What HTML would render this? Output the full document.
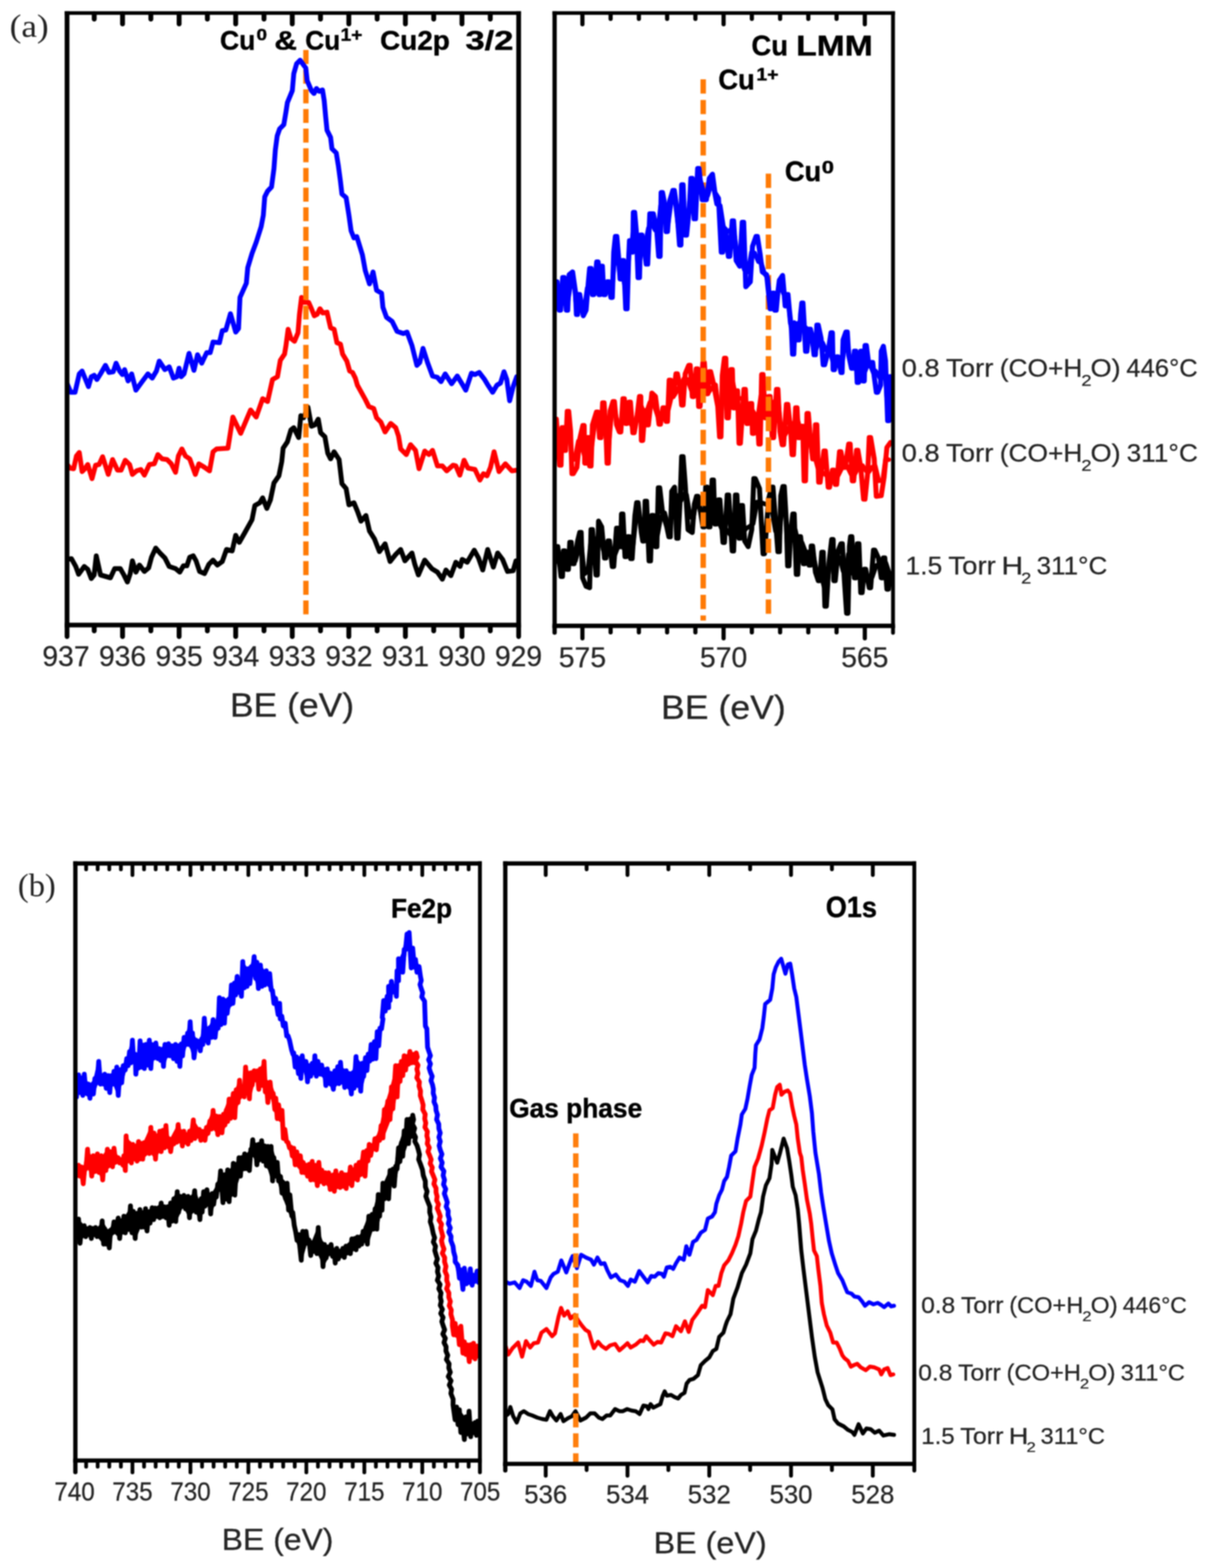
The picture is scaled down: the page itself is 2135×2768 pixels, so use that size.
<!DOCTYPE html>
<html lang="en"><head><meta charset="utf-8"><title>XPS spectra</title>
<style>html,body{margin:0;padding:0;background:#fff}svg{display:block}text{font-family:"Liberation Sans",sans-serif;fill:#242424;stroke:#242424;stroke-width:0.4px}.b{font-weight:bold;fill:#000;stroke:none}.s{font-family:"Liberation Serif",serif;fill:#222;stroke:none}</style></head><body>
<svg width="2135" height="2768" viewBox="0 0 2135 2768">
<defs><filter id="bl" x="0" y="0" width="100%" height="100%" filterUnits="userSpaceOnUse" color-interpolation-filters="sRGB"><feGaussianBlur stdDeviation="1.0"/></filter><clipPath id="caL"><rect x="118" y="23" width="798" height="1081"/></clipPath><clipPath id="caR"><rect x="979" y="23" width="598" height="1082"/></clipPath><clipPath id="cbL"><rect x="133" y="1524" width="715" height="1055"/></clipPath><clipPath id="cbR"><rect x="892" y="1524" width="723" height="1061"/></clipPath></defs>
<rect width="2135" height="2768" fill="#ffffff"/>
<g filter="url(#bl)">
<g id="aL">
<g clip-path="url(#caL)">
<polyline points="117.5,987.5 126.2,986.2 133.8,1000.0 138.8,1013.8 148.8,1000.0 155.0,1005.0 161.2,1021.2 166.2,1015.0 170.0,981.2 177.5,1015.0 186.2,1017.5 195.0,1020.0 202.5,1003.8 212.5,1003.8 218.8,1015.0 225.0,1027.5 230.0,1012.5 233.8,990.0 240.0,1010.0 246.2,997.5 255.0,1008.8 262.5,1002.5 267.5,983.8 275.0,967.5 282.5,976.2 291.2,985.0 298.8,1000.0 310.0,1003.8 317.5,1010.0 323.8,998.8 330.0,998.8 335.0,983.8 341.2,981.2 346.2,990.0 352.5,1008.8 361.2,1012.5 368.8,996.2 376.2,988.8 383.8,997.5 392.5,991.2 400.0,970.0 410.0,972.5 416.2,945.0 422.5,957.5 432.5,940.0 445.0,917.5 450.0,892.5 458.8,887.5 463.8,878.8 471.2,897.5 477.5,882.5 483.8,852.5 492.5,840.0 497.5,815.0 500.0,791.2 507.5,780.0 513.8,758.8 518.8,755.0 527.5,772.5 531.2,733.8 536.2,737.5 543.8,718.8 550.0,752.5 556.2,750.0 562.0,740.0 566.2,763.8 573.8,771.2 578.8,800.0 583.8,810.0 590.0,797.5 598.8,811.2 603.8,853.8 611.2,862.5 613.8,877.5 616.2,891.2 625.0,887.5 631.2,902.5 637.5,920.0 646.2,910.0 652.5,937.5 661.2,951.2 670.0,973.8 680.0,960.0 688.8,991.2 698.8,978.8 707.5,970.0 715.0,990.0 727.5,976.2 732.5,996.2 738.8,1015.0 750.0,988.8 762.5,1003.8 772.5,1010.0 781.2,1022.5 787.5,1006.2 796.2,1016.2 805.0,992.5 812.5,1000.0 816.2,987.5 825.0,992.5 837.5,971.2 845.0,985.0 852.5,1006.2 861.2,970.0 871.2,1001.2 878.8,976.2 887.5,987.5 896.2,1008.8 906.2,1007.5 911.2,990.0" fill="none" stroke="#000000" stroke-width="8.6" stroke-linejoin="round" stroke-linecap="round"/>
<polyline points="117.5,818.8 123.8,826.2 130.0,827.5 135.0,805.0 140.0,798.8 145.0,832.5 150.0,827.5 155.0,820.0 162.5,845.0 168.8,821.2 175.0,820.0 181.2,806.2 191.2,837.5 198.8,811.2 207.5,830.0 213.8,830.0 221.2,812.5 228.8,820.0 233.8,837.5 241.2,831.2 248.8,828.8 255.0,838.8 263.8,820.0 272.5,818.8 278.8,802.5 286.2,810.0 295.0,811.2 302.5,818.8 310.0,833.8 315.0,805.0 321.2,792.5 327.5,805.0 335.0,810.0 345.0,837.5 351.2,818.8 361.2,825.0 370.0,831.2 376.2,797.5 382.5,792.5 402.5,791.2 411.2,736.2 425.0,765.0 442.5,723.8 452.5,736.2 463.8,703.8 472.5,708.8 481.2,670.0 490.0,665.0 495.0,636.2 502.5,625.0 505.0,610.0 508.8,581.2 513.8,597.5 520.0,602.5 526.2,587.5 528.8,555.0 532.5,525.0 536.2,533.8 545.0,533.8 550.0,545.0 555.0,557.5 560.0,555.0 565.0,545.0 570.0,552.5 577.5,551.2 581.2,567.5 583.8,578.8 590.0,581.2 595.0,605.0 601.2,607.5 605.0,625.0 612.5,637.5 617.5,655.0 622.5,657.5 627.5,667.5 631.2,680.2 638.8,693.8 645.0,705.0 651.2,717.5 660.0,721.2 665.0,737.5 672.5,745.0 680.0,762.5 690.0,747.5 698.8,755.0 703.8,770.0 707.5,792.5 717.5,802.5 725.0,785.0 733.8,795.0 740.0,827.5 750.0,796.2 757.5,802.5 763.8,795.0 772.5,822.5 781.2,822.5 788.8,831.2 800.0,821.2 805.0,822.5 812.0,838.8 819.5,812.5 826.2,826.2 838.8,828.8 847.5,847.5 853.8,836.2 860.0,840.0 866.2,825.0 872.5,797.5 881.2,832.5 892.5,818.8 903.8,831.2 912.5,830.0" fill="none" stroke="#ff0000" stroke-width="8.6" stroke-linejoin="round" stroke-linecap="round"/>
<line x1="540.2" y1="88.3" x2="540.2" y2="1086.0" stroke="#ff7a05" stroke-width="9.4" stroke-dasharray="24.7 10.0" opacity="1.00"/>
<polyline points="117.5,675.0 125.0,692.5 132.5,692.5 140.0,660.0 145.0,655.0 156.2,682.5 161.2,665.0 166.2,662.5 171.2,670.0 177.5,660.0 186.2,645.0 192.5,657.5 200.0,656.2 205.0,641.2 211.2,655.0 216.2,661.2 220.0,652.5 226.2,672.5 232.5,660.0 240.0,688.8 250.0,675.0 261.2,660.0 268.8,667.5 276.2,655.0 281.2,637.5 291.2,652.5 298.8,647.5 306.2,667.5 312.5,665.0 316.2,650.0 320.0,665.0 325.0,660.0 333.8,623.8 342.5,653.8 348.8,626.2 356.2,641.2 365.0,622.5 371.2,622.5 376.2,603.8 387.5,605.0 392.5,583.8 398.8,582.5 407.0,553.8 416.2,586.2 421.2,580.0 423.8,525.0 435.0,500.0 437.5,472.5 445.0,447.5 452.5,427.5 461.2,400.0 465.0,380.0 467.5,347.5 472.5,337.5 479.5,330.0 483.8,297.5 486.2,265.0 489.5,240.0 493.8,227.5 501.2,220.0 505.0,197.5 507.5,181.2 516.2,160.0 518.8,130.0 523.8,112.5 530.0,106.2 536.2,115.0 540.0,120.0 542.5,142.5 550.0,160.0 554.5,165.0 558.8,156.2 563.8,161.2 569.5,158.8 572.5,177.5 575.0,205.0 577.5,230.0 583.8,242.5 586.2,262.5 593.8,270.0 597.5,292.5 601.2,320.0 603.8,342.5 611.2,348.8 616.2,380.2 620.0,407.5 625.0,420.0 630.0,417.5 636.2,437.5 640.0,450.0 645.0,477.5 652.5,501.2 658.8,480.0 665.0,512.5 673.8,517.5 676.2,542.5 682.5,560.0 692.5,567.5 701.2,585.0 712.5,588.8 718.8,586.2 727.5,610.0 736.2,645.0 741.2,640.0 747.0,615.0 755.0,640.0 763.8,663.8 772.5,666.2 778.8,673.8 786.2,660.0 797.5,677.5 807.5,663.8 817.5,680.2 822.5,688.8 832.5,658.8 838.8,661.2 846.2,657.5 855.0,668.8 862.5,681.2 870.0,692.5 877.5,680.0 883.8,676.2 890.0,656.2 895.0,670.0 900.0,707.5 906.2,682.5 912.5,665.0" fill="none" stroke="#0000ff" stroke-width="8.6" stroke-linejoin="round" stroke-linecap="round"/>
</g>
<rect x="114.2" y="19.8" width="8.4" height="1087.7" fill="#000"/>
<rect x="911.7" y="19.8" width="8.4" height="1087.7" fill="#000"/>
<rect x="114.2" y="19.8" width="805.9" height="6.4" fill="#000"/>
<rect x="114.2" y="1099.3" width="805.9" height="8.2" fill="#000"/>
<line x1="118.4" y1="1103.4" x2="118.4" y2="1123.8" stroke="#000" stroke-width="8.4" stroke-linecap="round"/>
<line x1="915.9" y1="1103.4" x2="915.9" y2="1123.8" stroke="#000" stroke-width="8.4" stroke-linecap="round"/>
<line x1="166.4" y1="24.0" x2="166.4" y2="33.7" stroke="#000" stroke-width="8.6" stroke-linecap="round"/>
<line x1="166.4" y1="1104.0" x2="166.4" y2="1113.7" stroke="#000" stroke-width="8.6" stroke-linecap="round"/>
<line x1="216.4" y1="24.0" x2="216.4" y2="42.2" stroke="#000" stroke-width="8.6" stroke-linecap="round"/>
<line x1="216.4" y1="1104.0" x2="216.4" y2="1123.7" stroke="#000" stroke-width="8.6" stroke-linecap="round"/>
<line x1="266.4" y1="24.0" x2="266.4" y2="33.7" stroke="#000" stroke-width="8.6" stroke-linecap="round"/>
<line x1="266.4" y1="1104.0" x2="266.4" y2="1113.7" stroke="#000" stroke-width="8.6" stroke-linecap="round"/>
<line x1="316.3" y1="24.0" x2="316.3" y2="42.2" stroke="#000" stroke-width="8.6" stroke-linecap="round"/>
<line x1="316.3" y1="1104.0" x2="316.3" y2="1123.7" stroke="#000" stroke-width="8.6" stroke-linecap="round"/>
<line x1="366.2" y1="24.0" x2="366.2" y2="33.7" stroke="#000" stroke-width="8.6" stroke-linecap="round"/>
<line x1="366.2" y1="1104.0" x2="366.2" y2="1113.7" stroke="#000" stroke-width="8.6" stroke-linecap="round"/>
<line x1="416.2" y1="24.0" x2="416.2" y2="42.2" stroke="#000" stroke-width="8.6" stroke-linecap="round"/>
<line x1="416.2" y1="1104.0" x2="416.2" y2="1123.7" stroke="#000" stroke-width="8.6" stroke-linecap="round"/>
<line x1="466.2" y1="24.0" x2="466.2" y2="33.7" stroke="#000" stroke-width="8.6" stroke-linecap="round"/>
<line x1="466.2" y1="1104.0" x2="466.2" y2="1113.7" stroke="#000" stroke-width="8.6" stroke-linecap="round"/>
<line x1="516.1" y1="24.0" x2="516.1" y2="42.2" stroke="#000" stroke-width="8.6" stroke-linecap="round"/>
<line x1="516.1" y1="1104.0" x2="516.1" y2="1123.7" stroke="#000" stroke-width="8.6" stroke-linecap="round"/>
<line x1="566.0" y1="24.0" x2="566.0" y2="33.7" stroke="#000" stroke-width="8.6" stroke-linecap="round"/>
<line x1="566.0" y1="1104.0" x2="566.0" y2="1113.7" stroke="#000" stroke-width="8.6" stroke-linecap="round"/>
<line x1="616.0" y1="24.0" x2="616.0" y2="42.2" stroke="#000" stroke-width="8.6" stroke-linecap="round"/>
<line x1="616.0" y1="1104.0" x2="616.0" y2="1123.7" stroke="#000" stroke-width="8.6" stroke-linecap="round"/>
<line x1="666.0" y1="24.0" x2="666.0" y2="33.7" stroke="#000" stroke-width="8.6" stroke-linecap="round"/>
<line x1="666.0" y1="1104.0" x2="666.0" y2="1113.7" stroke="#000" stroke-width="8.6" stroke-linecap="round"/>
<line x1="715.9" y1="24.0" x2="715.9" y2="42.2" stroke="#000" stroke-width="8.6" stroke-linecap="round"/>
<line x1="715.9" y1="1104.0" x2="715.9" y2="1123.7" stroke="#000" stroke-width="8.6" stroke-linecap="round"/>
<line x1="765.9" y1="24.0" x2="765.9" y2="33.7" stroke="#000" stroke-width="8.6" stroke-linecap="round"/>
<line x1="765.9" y1="1104.0" x2="765.9" y2="1113.7" stroke="#000" stroke-width="8.6" stroke-linecap="round"/>
<line x1="815.8" y1="24.0" x2="815.8" y2="42.2" stroke="#000" stroke-width="8.6" stroke-linecap="round"/>
<line x1="815.8" y1="1104.0" x2="815.8" y2="1123.7" stroke="#000" stroke-width="8.6" stroke-linecap="round"/>
<line x1="865.8" y1="24.0" x2="865.8" y2="33.7" stroke="#000" stroke-width="8.6" stroke-linecap="round"/>
<line x1="865.8" y1="1104.0" x2="865.8" y2="1113.7" stroke="#000" stroke-width="8.6" stroke-linecap="round"/>
<text x="116.5" y="1176.0" font-size="50.0" text-anchor="middle">937</text>
<text x="216.4" y="1176.0" font-size="50.0" text-anchor="middle">936</text>
<text x="316.3" y="1176.0" font-size="50.0" text-anchor="middle">935</text>
<text x="416.2" y="1176.0" font-size="50.0" text-anchor="middle">934</text>
<text x="516.1" y="1176.0" font-size="50.0" text-anchor="middle">933</text>
<text x="616.0" y="1176.0" font-size="50.0" text-anchor="middle">932</text>
<text x="715.9" y="1176.0" font-size="50.0" text-anchor="middle">931</text>
<text x="815.8" y="1176.0" font-size="50.0" text-anchor="middle">930</text>
<text x="915.7" y="1176.0" font-size="50.0" text-anchor="middle">929</text>
<text x="406.0" y="1265.0" font-size="58.5" textLength="219.5" lengthAdjust="spacingAndGlyphs">BE (eV)</text>
<text x="388.4" y="88.0" font-size="48.0" textLength="62.5" lengthAdjust="spacingAndGlyphs" class="b" style="stroke:#000;stroke-width:0.7px;stroke-linejoin:round">Cu</text>
<text x="453.0" y="71.0" font-size="29.0" textLength="18.6" lengthAdjust="spacingAndGlyphs" class="b" style="stroke:#000;stroke-width:0.7px;stroke-linejoin:round">0</text>
<text x="484.5" y="88.0" font-size="48.0" textLength="40.0" lengthAdjust="spacingAndGlyphs" class="b" style="stroke:#000;stroke-width:0.7px;stroke-linejoin:round">&amp;</text>
<text x="539.0" y="88.0" font-size="48.0" textLength="61.9" lengthAdjust="spacingAndGlyphs" class="b" style="stroke:#000;stroke-width:0.7px;stroke-linejoin:round">Cu</text>
<text x="601.6" y="71.5" font-size="30.5" textLength="38.3" lengthAdjust="spacingAndGlyphs" class="b" style="stroke:#000;stroke-width:0.7px;stroke-linejoin:round">1+</text>
<text x="671.3" y="88.0" font-size="48.0" textLength="123.1" lengthAdjust="spacingAndGlyphs" class="b" style="stroke:#000;stroke-width:0.7px;stroke-linejoin:round">Cu2p</text>
<text x="821.9" y="88.0" font-size="48.0" textLength="84.7" lengthAdjust="spacingAndGlyphs" class="b" style="stroke:#000;stroke-width:0.7px;stroke-linejoin:round">3/2</text>
</g>
<g id="aR">
<g clip-path="url(#caR)">
<polyline points="981.9,975.0 988.5,999.0 994.1,1000.0 999.4,992.0 1005.0,990.5 1010.0,988.9 1016.2,990.0 1022.5,966.6 1026.9,962.2 1031.9,1013.3 1038.1,1008.6 1043.1,957.0 1049.4,959.8 1055.4,948.3 1059.8,946.1 1065.6,972.0 1071.9,973.9 1078.8,974.7 1086.2,978.6 1092.5,962.2 1096.9,962.3 1101.9,968.2 1107.5,961.2 1112.5,963.5 1118.1,962.9 1123.4,912.1 1129.0,912.6 1134.4,944.0 1138.4,942.7 1144.0,957.1 1150.0,958.2 1155.6,945.1 1161.2,944.6 1166.9,913.5 1173.8,905.4 1180.0,929.1 1184.4,923.8 1188.8,876.6 1193.8,873.5 1198.8,883.8 1203.1,883.4 1207.5,872.3 1212.5,873.3 1218.8,912.5 1224.4,915.6 1228.8,887.1 1233.8,891.8 1239.4,913.2 1245.0,912.3 1250.0,911.8 1255.6,916.9 1261.2,912.9 1266.9,915.5 1274.0,932.7 1281.8,933.9 1289.9,944.2 1297.1,946.1 1303.1,940.0 1308.1,938.6 1312.5,939.3 1318.1,932.4 1324.4,928.9 1330.0,924.5 1336.9,886.2 1345.0,887.4 1353.1,890.5 1360.6,885.8 1369.4,937.7 1376.9,946.2 1381.2,886.3 1386.2,888.0 1390.4,967.7 1394.1,966.0 1398.8,927.9 1404.4,935.2 1410.0,959.7 1416.2,957.5 1423.1,975.6 1428.1,983.0 1431.9,974.9 1436.9,982.6 1443.1,1013.2 1449.4,1011.8 1455.2,1036.0 1460.9,1036.6 1466.9,974.7 1471.9,974.7 1476.9,991.4 1483.1,984.8 1488.8,1008.1 1493.8,1012.3 1498.1,978.3 1501.5,982.9 1506.5,1013.2 1512.8,1014.0 1518.4,1020.2 1524.4,1021.4 1531.9,1021.6 1540.0,1019.4 1547.5,998.1 1554.4,996.0 1559.4,996.2 1564.4,993.6 1570.0,1010.5" fill="none" stroke="#000000" stroke-width="8.0" stroke-linejoin="round" stroke-linecap="round"/>
<polyline points="978.8,965.0 985.0,965.0 990.7,1017.5 993.3,1017.5 995.0,972.5 997.5,972.5 1001.2,1005.0 1003.8,1005.0 1006.2,957.5 1008.8,957.5 1011.2,995.0 1013.8,995.0 1020.0,955.0 1023.7,940.0 1026.3,940.0 1028.8,1020.0 1035.0,1035.0 1041.2,1037.5 1043.7,935.0 1046.3,935.0 1052.5,1015.0 1054.9,1015.0 1057.0,920.0 1062.5,930.0 1067.5,985.0 1070.0,985.0 1073.7,955.0 1076.3,955.0 1081.2,1000.0 1083.8,1000.0 1088.7,932.5 1091.3,932.5 1093.7,965.0 1096.3,965.0 1097.5,907.5 1100.0,907.5 1103.7,982.5 1106.3,982.5 1108.7,947.5 1111.3,947.5 1113.7,986.2 1116.3,986.2 1121.2,910.0 1124.2,887.5 1126.8,887.5 1132.5,940.0 1135.0,955.0 1137.5,955.0 1139.2,885.0 1141.8,885.0 1146.2,990.0 1148.8,990.0 1151.2,910.0 1153.8,910.0 1157.5,965.0 1160.0,965.0 1162.5,861.2 1165.0,861.2 1170.0,905.0 1177.5,930.0 1181.2,947.5 1183.8,947.5 1186.2,867.5 1191.2,860.0 1195.0,950.0 1197.5,950.0 1201.2,880.0 1203.7,806.2 1206.3,806.2 1210.0,855.0 1215.0,935.0 1222.5,940.0 1226.2,890.0 1230.0,876.2 1232.5,876.2 1236.2,897.5 1241.2,930.0 1243.8,930.0 1246.2,860.0 1248.8,860.0 1251.2,930.0 1253.8,930.0 1257.5,847.5 1260.0,847.5 1262.5,925.0 1265.0,925.0 1268.7,882.5 1271.3,882.5 1276.7,957.5 1279.3,957.5 1284.2,873.8 1286.8,873.8 1293.0,972.5 1295.5,972.5 1298.7,873.8 1301.3,873.8 1305.0,950.0 1307.5,950.0 1308.7,892.5 1311.3,892.5 1315.0,955.0 1321.2,965.0 1327.5,935.0 1331.2,845.0 1333.8,845.0 1341.2,862.5 1347.5,977.5 1350.0,977.5 1357.5,880.0 1362.5,860.0 1365.0,860.0 1373.7,973.8 1376.3,973.8 1378.8,875.0 1382.5,858.8 1385.0,858.8 1388.8,925.0 1390.9,998.8 1393.3,998.8 1396.2,940.0 1400.0,907.5 1402.5,907.5 1406.2,1013.8 1408.8,1013.8 1411.2,947.5 1413.8,947.5 1418.7,995.0 1421.3,995.0 1425.0,975.0 1427.5,975.0 1428.7,997.5 1431.3,997.5 1432.5,963.8 1435.0,963.8 1440.0,1010.0 1445.0,1025.0 1447.5,1025.0 1451.2,975.0 1453.8,975.0 1456.7,1070.0 1459.3,1070.0 1463.8,995.0 1468.7,952.5 1471.3,952.5 1472.5,1025.0 1475.0,1025.0 1480.0,972.5 1485.0,960.0 1487.5,960.0 1491.2,1025.0 1495.0,1082.5 1497.5,1082.5 1500.0,965.0 1502.0,947.5 1504.3,947.5 1508.7,1020.0 1511.3,1020.0 1514.2,960.0 1516.8,960.0 1520.0,1046.2 1522.5,1046.2 1526.2,1005.0 1528.8,1005.0 1535.0,1037.5 1537.5,1037.5 1542.5,971.2 1545.0,971.2 1551.2,985.0 1556.2,1020.0 1558.8,1020.0 1560.0,985.0 1562.5,985.0 1566.2,1040.0 1568.8,1040.0 1572.5,1012.5" fill="none" stroke="#000000" stroke-width="8.8" stroke-linejoin="round" stroke-linecap="round"/>
<polyline points="980.6,753.1 983.8,773.0 987.2,769.8 991.6,759.5 995.6,765.5 1000.2,756.5 1005.2,756.5 1009.4,807.1 1015.0,811.0 1021.2,779.0 1027.1,785.0 1032.1,805.6 1036.2,798.8 1040.6,798.0 1044.4,794.1 1050.4,747.1 1057.2,747.1 1062.8,736.0 1067.8,728.9 1071.5,782.0 1075.2,784.2 1080.6,725.5 1086.2,727.8 1091.9,751.6 1098.1,748.2 1103.8,741.3 1109.1,740.8 1115.4,750.6 1121.9,748.3 1127.8,719.3 1132.1,715.9 1136.9,727.8 1141.9,726.9 1147.5,710.3 1154.4,713.0 1161.2,733.9 1168.5,732.3 1174.8,724.2 1180.2,723.7 1185.2,702.7 1191.2,697.2 1198.1,685.0 1203.1,682.3 1207.5,668.5 1213.8,669.6 1220.6,688.4 1227.2,689.0 1232.9,694.1 1238.8,695.2 1245.6,688.4 1251.2,692.9 1256.9,684.8 1263.8,679.5 1269.8,732.5 1273.8,729.8 1278.0,664.5 1282.8,665.2 1288.5,679.3 1294.1,674.1 1298.8,698.1 1303.8,703.1 1310.6,703.6 1317.5,708.8 1323.1,725.2 1328.1,723.4 1333.1,731.9 1338.8,732.7 1343.8,697.3 1349.4,695.8 1355.6,715.0 1361.9,718.1 1368.8,707.5 1375.0,713.7 1380.0,766.5 1386.2,767.7 1393.1,755.2 1398.1,759.3 1403.1,744.7 1408.8,741.2 1413.8,761.3 1418.8,764.5 1423.8,749.9 1428.8,758.1 1433.8,799.6 1438.8,806.3 1444.1,825.8 1451.6,833.6 1460.0,839.4 1467.5,840.3 1473.8,839.9 1480.0,839.8 1487.5,824.7 1495.6,822.5 1503.1,837.6 1510.0,836.2 1516.9,822.7 1523.1,821.8 1529.4,831.3 1534.4,833.0 1540.0,824.7 1545.6,822.5 1551.9,848.8 1558.8,848.0 1563.8,809.6 1569.4,811.5" fill="none" stroke="#ff0000" stroke-width="8.0" stroke-linejoin="round" stroke-linecap="round"/>
<polyline points="978.8,740.0 982.5,740.0 985.0,775.0 988.2,821.2 990.8,821.2 992.5,755.0 995.0,755.0 996.2,795.0 998.8,795.0 1001.7,726.2 1004.3,726.2 1007.5,760.0 1010.0,836.2 1012.5,836.2 1018.8,825.0 1023.8,775.0 1029.2,751.2 1031.6,751.2 1032.6,817.5 1035.0,817.5 1037.5,772.5 1040.0,772.5 1041.2,822.5 1043.8,822.5 1046.2,750.0 1053.2,727.5 1055.8,727.5 1058.7,772.5 1061.3,772.5 1064.2,711.2 1066.8,711.2 1070.0,760.0 1072.0,817.5 1074.3,817.5 1077.5,725.0 1082.5,708.8 1085.0,708.8 1088.8,750.0 1093.7,762.5 1096.3,762.5 1100.0,703.8 1102.5,703.8 1105.0,747.5 1107.5,747.5 1110.7,710.0 1113.3,710.0 1117.5,763.8 1120.0,763.8 1125.0,735.0 1129.2,700.0 1131.6,700.0 1132.6,777.5 1135.0,777.5 1138.7,725.0 1141.3,725.0 1142.5,750.0 1145.0,750.0 1151.2,693.8 1157.5,700.0 1163.7,748.8 1166.3,748.8 1170.7,720.0 1173.3,720.0 1176.2,743.8 1178.8,743.8 1181.7,671.2 1184.3,671.2 1186.2,700.0 1188.8,700.0 1193.7,660.0 1196.3,660.0 1201.2,685.0 1203.7,715.0 1206.3,715.0 1210.0,660.0 1216.2,645.0 1218.8,645.0 1222.5,700.0 1225.0,700.0 1229.5,651.2 1232.0,651.2 1233.7,717.5 1236.3,717.5 1241.2,640.0 1243.8,640.0 1247.5,695.0 1250.0,695.0 1252.5,656.2 1255.0,656.2 1260.0,677.5 1267.5,717.5 1270.7,771.2 1273.2,771.2 1275.5,662.5 1279.2,632.5 1281.8,632.5 1283.7,737.5 1286.3,737.5 1290.7,652.5 1293.3,652.5 1295.0,720.0 1297.5,720.0 1300.0,690.0 1302.5,690.0 1305.0,782.5 1307.5,782.5 1313.7,687.5 1316.3,687.5 1318.7,747.5 1321.3,747.5 1325.0,712.5 1327.5,712.5 1328.7,765.0 1331.3,765.0 1335.0,735.0 1337.5,735.0 1340.0,783.8 1342.5,783.8 1345.0,661.2 1347.5,661.2 1351.2,737.5 1353.8,737.5 1357.5,700.0 1360.0,700.0 1363.7,772.5 1366.3,772.5 1371.2,687.5 1373.8,687.5 1377.5,762.5 1381.2,785.0 1383.8,785.0 1388.7,713.8 1391.3,713.8 1396.2,760.0 1398.7,802.5 1401.3,802.5 1405.0,720.0 1407.5,720.0 1410.0,772.5 1412.5,772.5 1415.0,752.5 1417.5,752.5 1420.0,848.8 1422.5,848.8 1425.0,730.0 1427.5,730.0 1431.2,775.0 1435.0,810.0 1437.5,810.0 1440.0,750.0 1442.5,750.0 1445.7,851.2 1448.3,851.2 1455.0,796.2 1457.5,796.2 1462.5,860.0 1465.0,860.0 1470.0,830.0 1472.5,830.0 1475.0,855.0 1477.5,855.0 1482.5,797.5 1485.0,797.5 1490.0,825.0 1492.5,825.0 1498.7,783.8 1501.3,783.8 1505.0,848.8 1507.5,848.8 1512.5,795.0 1515.0,795.0 1520.0,825.0 1525.0,881.2 1527.5,881.2 1532.5,832.5 1535.0,772.5 1537.5,772.5 1543.8,810.0 1547.5,876.2 1556.2,875.0 1561.2,842.5 1566.2,790.0 1572.5,781.2" fill="none" stroke="#ff0000" stroke-width="8.8" stroke-linejoin="round" stroke-linecap="round"/>
<line x1="1241.8" y1="140.0" x2="1241.8" y2="1095.5" stroke="#ff7a05" stroke-width="9.6" stroke-dasharray="25.2 11.2" opacity="1.00"/>
<line x1="1357.0" y1="306.5" x2="1357.0" y2="1093.5" stroke="#ff7a05" stroke-width="9.6" stroke-dasharray="25.2 10.6" opacity="1.00"/>
<polyline points="981.2,508.2 986.2,529.4 991.9,527.1 998.1,527.7 1003.1,531.1 1008.1,498.8 1013.8,499.4 1017.5,540.5 1020.6,537.5 1026.2,538.0 1032.5,540.5 1036.9,508.5 1040.6,506.3 1045.0,513.2 1051.2,510.9 1056.9,507.7 1060.6,509.3 1065.0,507.5 1070.6,501.1 1076.9,503.1 1081.9,501.4 1085.9,447.0 1090.2,448.6 1094.4,483.8 1098.1,477.5 1103.1,503.8 1108.1,501.1 1111.2,438.3 1114.4,438.1 1117.9,410.3 1121.6,403.4 1125.9,461.3 1130.2,458.4 1135.0,426.6 1140.0,428.8 1145.0,402.7 1150.6,393.4 1156.9,406.2 1162.2,404.5 1166.6,362.6 1171.2,360.0 1175.6,393.6 1180.0,395.0 1186.0,350.9 1192.2,355.5 1198.1,404.0 1203.1,398.1 1208.1,391.3 1214.4,388.9 1219.4,338.1 1224.1,333.1 1230.1,323.7 1236.6,317.0 1243.8,342.9 1250.0,345.1 1255.4,326.2 1260.4,333.0 1265.6,360.5 1271.9,362.8 1277.5,399.4 1283.8,409.5 1290.9,405.3 1297.1,415.1 1303.1,458.4 1309.1,460.2 1314.5,476.2 1321.0,479.9 1326.9,445.5 1332.5,446.5 1339.4,462.0 1344.4,464.4 1350.0,483.1 1355.6,490.2 1359.4,526.2 1363.4,529.1 1367.5,530.7 1371.6,532.6 1375.0,507.6 1379.1,506.0 1383.2,517.7 1386.0,519.8 1389.0,529.1 1392.1,534.0 1395.6,571.1 1399.0,573.6 1402.8,569.5 1407.5,572.7 1411.9,568.6 1415.4,568.7 1418.5,574.1 1421.9,577.5 1426.9,581.5 1431.9,584.1 1436.2,613.4 1441.2,616.6 1446.9,600.2 1452.5,604.6 1458.8,618.2 1465.6,620.2 1470.6,638.0 1475.6,637.3 1482.5,638.8 1487.5,640.7 1491.9,607.1 1496.9,608.5 1501.9,639.8 1507.5,640.7 1512.5,653.8 1518.1,657.2 1523.1,656.7 1526.9,657.7 1531.2,645.9 1537.5,646.2 1542.5,658.8 1546.2,654.9 1551.9,664.1 1555.6,670.5 1558.1,637.7 1561.9,641.6 1566.2,705.8 1570.6,704.9 1573.8,702.1" fill="none" stroke="#0000ff" stroke-width="8.0" stroke-linejoin="round" stroke-linecap="round"/>
<polyline points="978.8,500.0 983.8,497.5 987.5,547.5 990.0,547.5 993.7,490.0 996.3,490.0 1000.0,547.5 1002.5,547.5 1005.0,485.0 1011.2,480.0 1016.2,515.0 1017.9,555.0 1020.0,555.0 1021.2,520.0 1023.8,520.0 1030.0,557.5 1035.0,547.5 1038.8,500.0 1041.2,473.8 1043.8,473.8 1046.2,520.0 1048.8,520.0 1053.7,462.5 1056.3,462.5 1057.5,520.0 1060.0,520.0 1061.2,470.0 1063.8,470.0 1066.2,520.0 1068.8,520.0 1072.5,497.5 1075.0,497.5 1078.7,525.0 1081.3,525.0 1083.8,445.0 1086.7,417.5 1089.3,417.5 1092.5,455.0 1095.0,492.5 1097.5,492.5 1098.7,460.0 1101.3,460.0 1105.0,545.0 1107.5,545.0 1110.0,460.0 1111.6,425.0 1113.8,425.0 1115.0,445.0 1117.4,445.0 1118.4,375.0 1120.8,375.0 1123.8,410.0 1126.7,490.0 1129.3,490.0 1131.2,415.0 1133.8,415.0 1137.5,435.0 1141.2,466.2 1143.8,466.2 1147.5,377.5 1153.8,377.5 1160.0,410.0 1163.2,452.5 1165.8,452.5 1167.5,340.0 1170.0,340.0 1173.8,360.0 1176.2,408.8 1178.8,408.8 1182.5,355.0 1188.2,336.2 1190.8,336.2 1195.0,365.0 1200.0,432.5 1202.5,432.5 1203.7,326.2 1206.3,326.2 1210.0,415.0 1212.5,415.0 1217.5,365.0 1220.0,315.0 1222.5,315.0 1225.7,386.2 1228.3,386.2 1232.0,297.5 1234.5,297.5 1240.0,352.5 1247.5,352.5 1252.5,315.0 1258.2,307.5 1262.5,340.0 1268.8,350.0 1273.7,445.0 1276.3,445.0 1278.7,405.0 1281.3,405.0 1286.2,452.5 1288.8,452.5 1293.0,390.0 1295.5,390.0 1300.0,460.0 1306.2,470.0 1310.7,392.5 1313.3,392.5 1317.0,506.2 1325.0,497.5 1328.8,435.0 1335.0,417.5 1337.5,417.5 1342.5,450.0 1346.2,480.0 1353.8,485.0 1357.5,520.0 1360.0,545.0 1362.5,545.0 1364.2,517.5 1366.8,517.5 1368.2,547.5 1370.8,547.5 1373.8,515.0 1376.2,495.0 1382.0,486.2 1384.5,515.0 1386.5,540.0 1388.5,540.0 1389.5,520.0 1391.6,520.0 1393.8,545.0 1397.5,580.0 1399.5,625.0 1401.8,625.0 1403.7,572.5 1406.3,572.5 1408.7,600.0 1411.3,600.0 1413.8,555.0 1415.9,535.0 1418.0,535.0 1420.0,570.0 1422.5,620.0 1425.0,620.0 1428.7,581.2 1431.3,581.2 1433.8,592.5 1437.5,626.2 1440.0,626.2 1442.5,573.8 1445.0,573.8 1450.0,597.5 1453.7,643.8 1456.3,643.8 1462.5,620.0 1467.5,587.5 1470.0,587.5 1471.2,652.5 1473.8,652.5 1477.5,630.0 1480.0,630.0 1485.0,657.5 1487.1,657.5 1488.8,600.0 1493.7,586.2 1496.3,586.2 1498.8,627.5 1503.7,650.0 1506.3,650.0 1508.7,620.0 1511.3,620.0 1513.7,675.0 1516.3,675.0 1520.0,620.0 1522.5,620.0 1523.7,672.5 1526.3,672.5 1527.5,610.0 1530.0,610.0 1533.8,640.0 1541.2,640.0 1543.8,665.0 1547.5,692.5 1550.0,692.5 1555.0,680.0 1556.2,620.0 1560.0,611.2 1563.8,637.5 1567.5,742.5 1570.0,742.5 1571.2,665.0 1573.4,665.0 1575.0,727.5" fill="none" stroke="#0000ff" stroke-width="8.8" stroke-linejoin="round" stroke-linecap="round"/>
</g>
<rect x="975.6" y="19.8" width="7.6" height="1088.9" fill="#000"/>
<rect x="1573.6" y="19.8" width="6.8" height="1088.9" fill="#000"/>
<rect x="975.6" y="19.8" width="604.8" height="6.4" fill="#000"/>
<rect x="975.6" y="1100.9" width="604.8" height="7.8" fill="#000"/>
<line x1="979.4" y1="1104.8" x2="979.4" y2="1116.7" stroke="#000" stroke-width="7.6" stroke-linecap="round"/>
<line x1="1577.0" y1="1104.8" x2="1577.0" y2="1117.1" stroke="#000" stroke-width="6.8" stroke-linecap="round"/>
<line x1="1028.5" y1="24.0" x2="1028.5" y2="42.8" stroke="#000" stroke-width="7.4" stroke-linecap="round"/>
<line x1="1028.5" y1="1105.0" x2="1028.5" y2="1126.8" stroke="#000" stroke-width="7.4" stroke-linecap="round"/>
<line x1="1078.3" y1="24.0" x2="1078.3" y2="33.3" stroke="#000" stroke-width="7.4" stroke-linecap="round"/>
<line x1="1078.3" y1="1105.0" x2="1078.3" y2="1116.3" stroke="#000" stroke-width="7.4" stroke-linecap="round"/>
<line x1="1128.2" y1="24.0" x2="1128.2" y2="33.3" stroke="#000" stroke-width="7.4" stroke-linecap="round"/>
<line x1="1128.2" y1="1105.0" x2="1128.2" y2="1116.3" stroke="#000" stroke-width="7.4" stroke-linecap="round"/>
<line x1="1178.1" y1="24.0" x2="1178.1" y2="33.3" stroke="#000" stroke-width="7.4" stroke-linecap="round"/>
<line x1="1178.1" y1="1105.0" x2="1178.1" y2="1116.3" stroke="#000" stroke-width="7.4" stroke-linecap="round"/>
<line x1="1228.0" y1="24.0" x2="1228.0" y2="33.3" stroke="#000" stroke-width="7.4" stroke-linecap="round"/>
<line x1="1228.0" y1="1105.0" x2="1228.0" y2="1116.3" stroke="#000" stroke-width="7.4" stroke-linecap="round"/>
<line x1="1277.8" y1="24.0" x2="1277.8" y2="42.8" stroke="#000" stroke-width="7.4" stroke-linecap="round"/>
<line x1="1277.8" y1="1105.0" x2="1277.8" y2="1126.8" stroke="#000" stroke-width="7.4" stroke-linecap="round"/>
<line x1="1327.7" y1="24.0" x2="1327.7" y2="33.3" stroke="#000" stroke-width="7.4" stroke-linecap="round"/>
<line x1="1327.7" y1="1105.0" x2="1327.7" y2="1116.3" stroke="#000" stroke-width="7.4" stroke-linecap="round"/>
<line x1="1377.6" y1="24.0" x2="1377.6" y2="33.3" stroke="#000" stroke-width="7.4" stroke-linecap="round"/>
<line x1="1377.6" y1="1105.0" x2="1377.6" y2="1116.3" stroke="#000" stroke-width="7.4" stroke-linecap="round"/>
<line x1="1427.4" y1="24.0" x2="1427.4" y2="33.3" stroke="#000" stroke-width="7.4" stroke-linecap="round"/>
<line x1="1427.4" y1="1105.0" x2="1427.4" y2="1116.3" stroke="#000" stroke-width="7.4" stroke-linecap="round"/>
<line x1="1477.3" y1="24.0" x2="1477.3" y2="33.3" stroke="#000" stroke-width="7.4" stroke-linecap="round"/>
<line x1="1477.3" y1="1105.0" x2="1477.3" y2="1116.3" stroke="#000" stroke-width="7.4" stroke-linecap="round"/>
<line x1="1527.2" y1="24.0" x2="1527.2" y2="42.8" stroke="#000" stroke-width="7.4" stroke-linecap="round"/>
<line x1="1527.2" y1="1105.0" x2="1527.2" y2="1126.8" stroke="#000" stroke-width="7.4" stroke-linecap="round"/>
<text x="1028.5" y="1177.5" font-size="50.0" text-anchor="middle">575</text>
<text x="1277.8" y="1177.5" font-size="50.0" text-anchor="middle">570</text>
<text x="1527.2" y="1177.5" font-size="50.0" text-anchor="middle">565</text>
<text x="1167.3" y="1268.7" font-size="58.5" textLength="220.5" lengthAdjust="spacingAndGlyphs">BE (eV)</text>
<text x="1327.1" y="98.0" font-size="50.0" textLength="64.4" lengthAdjust="spacingAndGlyphs" class="b" style="stroke:#000;stroke-width:0.7px;stroke-linejoin:round">Cu</text>
<text x="1406.1" y="98.0" font-size="50.0" textLength="135.0" lengthAdjust="spacingAndGlyphs" class="b" style="stroke:#000;stroke-width:0.7px;stroke-linejoin:round">LMM</text>
<text x="1268.4" y="157.5" font-size="50.0" textLength="64.4" lengthAdjust="spacingAndGlyphs" class="b" style="stroke:#000;stroke-width:0.7px;stroke-linejoin:round">Cu</text>
<text x="1335.7" y="142.3" font-size="31.0" textLength="39.0" lengthAdjust="spacingAndGlyphs" class="b" style="stroke:#000;stroke-width:0.7px;stroke-linejoin:round">1+</text>
<text x="1385.9" y="320.0" font-size="50.0" textLength="64.4" lengthAdjust="spacingAndGlyphs" class="b" style="stroke:#000;stroke-width:0.7px;stroke-linejoin:round">Cu</text>
<text x="1451.3" y="306.0" font-size="31.0" textLength="21.4" lengthAdjust="spacingAndGlyphs" class="b" style="stroke:#000;stroke-width:0.7px;stroke-linejoin:round">0</text>
</g>
<text x="1592.2" y="664.8" font-size="44.5" textLength="67.1" lengthAdjust="spacingAndGlyphs">0.8</text>
<text x="1670.4" y="664.8" font-size="44.5" textLength="83.8" lengthAdjust="spacingAndGlyphs">Torr</text>
<text x="1765.5" y="664.8" font-size="44.5" textLength="145.9" lengthAdjust="spacingAndGlyphs">(CO+H</text>
<text x="1925.8" y="664.8" font-size="44.5" textLength="53.3" lengthAdjust="spacingAndGlyphs">O)</text>
<text x="1989.1" y="664.8" font-size="44.5" textLength="126.0" lengthAdjust="spacingAndGlyphs">446°C</text>
<text x="1909.4" y="680.8" font-size="27.6" textLength="18.1" lengthAdjust="spacingAndGlyphs">2</text>
<text x="1592.2" y="815.0" font-size="44.5" textLength="67.1" lengthAdjust="spacingAndGlyphs">0.8</text>
<text x="1670.4" y="815.0" font-size="44.5" textLength="83.8" lengthAdjust="spacingAndGlyphs">Torr</text>
<text x="1765.5" y="815.0" font-size="44.5" textLength="145.9" lengthAdjust="spacingAndGlyphs">(CO+H</text>
<text x="1925.8" y="815.0" font-size="44.5" textLength="53.3" lengthAdjust="spacingAndGlyphs">O)</text>
<text x="1989.4" y="815.0" font-size="44.5" textLength="126.0" lengthAdjust="spacingAndGlyphs">311°C</text>
<text x="1909.4" y="831.0" font-size="27.6" textLength="18.1" lengthAdjust="spacingAndGlyphs">2</text>
<text x="1598.9" y="1013.5" font-size="44.5" textLength="65.0" lengthAdjust="spacingAndGlyphs">1.5</text>
<text x="1674.7" y="1013.5" font-size="44.5" textLength="83.9" lengthAdjust="spacingAndGlyphs">Torr</text>
<text x="1768.6" y="1013.5" font-size="44.5" textLength="38.3" lengthAdjust="spacingAndGlyphs">H</text>
<text x="1830.4" y="1013.5" font-size="44.5" textLength="125.1" lengthAdjust="spacingAndGlyphs">311°C</text>
<text x="1803.2" y="1029.5" font-size="27.6" textLength="17.9" lengthAdjust="spacingAndGlyphs">2</text>
<g id="bL">
<g clip-path="url(#cbL)">
<polygon points="133.3,2153.7 140.0,2155.3 150.0,2167.0 160.0,2170.3 170.0,2170.3 181.7,2158.7 191.7,2177.0 200.0,2160.3 210.0,2153.7 220.0,2150.3 231.7,2132.0 240.0,2145.3 248.3,2138.7 258.3,2137.0 270.0,2135.3 283.3,2127.0 291.7,2133.7 300.0,2127.0 311.7,2107.0 323.3,2113.7 333.3,2115.3 345.0,2105.3 351.7,2123.7 358.3,2107.0 366.7,2103.7 373.3,2110.3 383.3,2093.7 388.3,2070.3 395.0,2077.0 403.3,2068.7 413.3,2057.0 423.3,2047.0 433.3,2040.3 441.7,2032.0 445.0,2015.3 455.0,2023.7 463.3,2017.0 471.7,2027.0 480.0,2027.0 488.3,2055.3 496.7,2080.3 508.3,2092.0 518.3,2143.7 523.3,2177.0 533.3,2177.0 541.7,2177.0 550.0,2197.0 560.7,2170.3 571.7,2200.3 583.3,2200.3 593.3,2207.0 606.7,2207.0 620.0,2190.3 630.0,2187.0 640.0,2177.0 650.0,2150.3 658.3,2147.0 666.7,2112.0 673.3,2113.7 677.5,2092.0 687.5,2069.5 692.5,2066.0 697.5,2062.0 702.5,2029.5 712.5,1999.5 720.0,1979.5 727.5,1972.0 732.5,2014.0 738.8,2029.0 742.5,2054.0 747.5,2074.0 751.2,2094.0 755.0,2119.0 758.8,2139.0 762.5,2164.0 765.0,2176.5 770.0,2214.0 772.5,2244.0 777.5,2289.0 782.5,2339.0 787.5,2384.0 792.5,2414.0 796.2,2459.0 800.0,2479.0 805.0,2487.0 812.5,2492.0 821.2,2504.5 827.0,2494.5 832.5,2517.0 840.0,2514.5 844.5,2512.0 844.5,2528.0 840.0,2530.5 832.5,2533.0 827.0,2528.0 821.2,2538.0 812.5,2525.5 805.0,2503.0 800.0,2481.0 796.2,2461.0 792.5,2416.0 787.5,2386.0 782.5,2341.0 777.5,2291.0 772.5,2246.0 770.0,2216.0 765.0,2178.5 762.5,2166.0 758.8,2141.0 755.0,2121.0 751.2,2096.0 747.5,2076.0 742.5,2056.0 738.8,2031.0 732.5,2016.0 727.5,2003.0 720.0,2015.5 712.5,2038.0 702.5,2060.5 697.5,2090.5 692.5,2074.0 687.5,2113.0 677.5,2113.0 673.3,2133.0 666.7,2166.3 658.3,2166.3 650.0,2193.0 640.0,2193.0 630.0,2203.0 620.0,2209.7 606.7,2216.3 593.3,2226.3 583.3,2209.7 571.7,2232.7 560.7,2209.7 550.0,2213.0 541.7,2191.3 533.3,2221.3 523.3,2186.3 518.3,2159.7 508.3,2133.0 496.7,2103.0 488.3,2073.0 480.0,2081.3 471.7,2054.7 463.3,2046.3 455.0,2053.0 445.0,2036.3 441.7,2063.0 433.3,2059.7 423.3,2073.0 413.3,2106.3 403.3,2118.0 395.0,2119.7 388.3,2096.3 383.3,2109.7 373.3,2139.7 366.7,2123.0 358.3,2136.3 351.7,2149.7 345.0,2136.3 333.3,2146.3 323.3,2126.3 311.7,2153.0 300.0,2159.7 291.7,2146.3 283.3,2146.3 270.0,2149.7 258.3,2169.7 248.3,2163.0 240.0,2183.0 231.7,2173.0 220.0,2173.0 210.0,2183.0 200.0,2173.0 191.7,2199.7 181.7,2193.0 170.0,2179.7 160.0,2183.0 150.0,2179.7 140.0,2191.3 133.3,2179.7" fill="#000000" stroke="#000000" stroke-width="3.2" stroke-linejoin="round"/>
<polyline points="132.0,2150.3 134.6,2183.0 138.7,2152.0 141.3,2194.7 143.9,2167.9 146.8,2181.0 148.7,2163.7 151.3,2183.0 153.6,2169.0 156.7,2179.5 158.7,2167.0 161.3,2186.3 163.7,2168.6 167.0,2179.4 168.7,2167.0 171.3,2183.0 174.3,2171.5 177.4,2183.7 180.4,2155.3 183.0,2196.3 185.2,2169.8 187.6,2196.3 190.4,2173.7 193.0,2203.0 195.2,2171.6 198.7,2176.3 201.3,2157.0 204.2,2174.8 208.7,2150.3 211.3,2186.3 213.9,2157.7 216.7,2175.1 218.7,2147.0 221.3,2176.3 224.3,2151.5 227.4,2170.0 230.4,2128.7 233.0,2176.3 235.4,2138.4 238.7,2186.3 241.3,2142.0 243.8,2165.2 247.0,2135.3 249.6,2166.3 252.6,2145.5 254.9,2166.2 257.0,2133.7 259.6,2173.0 262.2,2144.9 265.0,2159.2 268.7,2132.0 271.3,2153.0 274.1,2132.6 276.5,2147.6 280.0,2132.9 282.0,2149.7 284.6,2123.7 287.0,2147.6 290.4,2130.3 293.0,2149.7 295.8,2130.3 298.7,2163.0 301.3,2123.7 303.9,2155.7 307.0,2116.3 310.4,2156.3 313.0,2103.7 315.3,2140.2 317.8,2112.1 322.0,2129.7 324.6,2110.3 327.5,2133.9 332.0,2112.0 334.6,2149.7 337.0,2115.6 340.3,2134.2 343.7,2102.0 346.3,2139.7 350.4,2120.3 353.0,2153.0 355.3,2115.9 357.0,2139.7 359.6,2103.7 362.1,2129.0 365.4,2100.3 368.0,2126.3 370.2,2111.3 372.0,2143.0 374.6,2107.0 377.3,2125.8 380.2,2105.0 382.0,2113.0 384.6,2090.3 387.0,2099.7 389.6,2067.0 393.7,2123.0 396.3,2073.7 398.6,2116.7 402.0,2065.3 404.6,2121.3 407.5,2068.0 410.0,2097.8 412.0,2053.7 414.6,2109.7 417.0,2066.4 420.3,2076.7 422.0,2043.7 424.6,2076.3 426.9,2043.4 430.4,2063.3 432.0,2037.0 434.6,2063.0 437.0,2042.9 440.4,2066.3 443.0,2028.7 443.7,2039.7 446.3,2012.0 448.6,2037.3 451.0,2021.2 453.7,2056.3 456.3,2020.3 459.2,2044.2 462.0,2013.7 464.6,2049.7 467.6,2023.0 470.4,2058.0 473.0,2023.7 475.4,2060.9 478.7,2023.7 481.3,2084.7 483.6,2043.7 487.0,2076.3 489.6,2052.0 491.9,2084.9 495.4,2077.0 498.0,2106.3 501.0,2090.5 504.1,2115.8 507.0,2088.7 509.6,2136.3 511.9,2109.4 515.3,2146.6 517.0,2140.3 519.6,2163.0 522.0,2173.7 524.6,2189.7 527.3,2179.8 532.0,2224.7 534.6,2173.7 537.1,2197.7 540.4,2173.7 543.0,2194.7 545.6,2189.2 548.7,2216.3 551.3,2193.7 554.1,2206.5 557.3,2188.3 559.4,2213.0 562.0,2167.0 564.7,2207.1 568.1,2194.8 570.4,2236.0 573.0,2197.0 575.9,2220.6 578.9,2201.3 582.0,2213.0 584.6,2197.0 587.3,2218.0 590.4,2210.0 592.0,2229.7 594.6,2203.7 597.4,2222.6 600.6,2208.5 603.4,2216.4 605.4,2203.7 608.0,2219.7 610.8,2199.8 613.8,2211.8 616.4,2197.8 618.7,2213.0 621.3,2187.0 624.0,2202.1 626.6,2186.3 628.7,2206.3 631.3,2183.7 634.0,2199.6 636.5,2184.6 638.7,2196.3 641.3,2173.7 643.9,2185.5 646.5,2166.6 648.7,2196.3 651.3,2147.0 653.8,2172.4 657.0,2143.7 659.6,2169.7 662.5,2133.7 665.4,2169.7 668.0,2108.7 670.4,2146.7 672.0,2110.3 674.6,2136.3 676.2,2088.7 678.8,2116.3 681.7,2089.4 686.2,2116.3 688.8,2066.2 691.2,2076.3 693.8,2063.7 696.2,2093.8 698.8,2058.7 701.2,2063.8 703.8,2026.2 706.2,2050.4 709.0,2017.1 711.2,2041.3 713.8,1996.2 716.3,2016.4 718.7,1976.2 721.3,2018.8 723.9,1975.6 726.2,2006.3 728.8,1968.7 730.3,1976.4 728.2,1984.1 732.2,1991.8 730.0,1999.5 733.8,2007.3 732.5,2015.0 736.6,2022.5 738.8,2030.0 740.8,2038.3 739.3,2046.7 742.5,2055.0 746.0,2065.0 747.5,2075.0 751.1,2085.0 751.2,2095.0 754.2,2103.3 752.0,2111.7 755.0,2120.0 759.0,2130.0 758.8,2140.0 761.1,2148.3 759.8,2156.7 762.5,2165.0 765.0,2177.5 767.5,2185.0 765.2,2192.5 769.1,2200.0 767.8,2207.5 770.0,2215.0 772.4,2222.5 769.7,2230.0 773.5,2237.5 772.5,2245.0 774.7,2252.5 772.3,2260.0 777.1,2267.5 774.9,2275.0 778.8,2282.5 777.5,2290.0 779.2,2297.1 777.5,2304.3 781.3,2311.4 778.3,2318.6 782.4,2325.7 780.2,2332.9 782.5,2340.0 785.2,2347.5 782.0,2355.0 786.4,2362.5 784.1,2370.0 787.8,2377.5 787.5,2385.0 790.7,2392.5 788.3,2400.0 793.1,2407.5 792.5,2415.0 795.2,2422.5 791.6,2430.0 796.5,2437.5 793.4,2445.0 797.5,2452.5 796.2,2460.0 800.2,2470.0 800.0,2480.0 803.7,2506.3 806.3,2483.7 808.8,2515.0 811.2,2488.7 813.8,2528.8 816.4,2506.0 820.0,2541.3 822.5,2501.2 825.7,2531.3 828.3,2491.2 831.2,2536.3 833.8,2513.7 836.1,2528.4 838.7,2511.2 841.3,2533.8 843.2,2508.7 845.8,2531.3" fill="none" stroke="#000000" stroke-width="8.5" stroke-linejoin="round" stroke-linecap="round"/>
<polygon points="133.3,2057.0 140.0,2060.3 148.3,2063.7 153.3,2032.0 163.3,2043.7 173.3,2040.3 180.0,2043.7 188.3,2032.0 200.0,2030.3 210.0,2045.0 220.0,2043.7 224.0,2008.7 233.3,2023.7 243.3,2018.7 253.3,2020.3 265.0,1993.7 273.3,2003.7 283.3,2000.3 291.7,1990.3 300.0,2013.7 313.3,1988.7 323.3,2000.3 333.3,2000.3 342.7,1980.3 353.3,1997.0 363.3,1993.7 375.0,1963.7 383.3,1973.7 393.3,1970.3 403.3,1943.7 413.3,1933.7 421.7,1910.3 430.0,1923.7 435.0,1887.0 441.7,1897.0 450.0,1893.7 458.3,1890.3 465.0,1877.0 471.7,1913.7 478.3,1913.7 488.3,1942.0 496.7,1963.7 501.7,1997.0 510.0,2018.3 520.0,2030.3 531.7,2043.7 541.7,2060.3 550.0,2053.7 561.7,2055.3 573.3,2073.7 581.7,2073.7 591.7,2070.3 601.7,2073.7 610.0,2077.0 620.0,2063.7 630.0,2060.3 643.3,2037.0 653.3,2023.7 663.3,2013.7 671.7,1990.3 677.5,1962.0 690.0,1922.0 700.0,1884.5 710.0,1877.0 715.0,1867.0 722.5,1859.5 728.0,1864.2 733.8,1862.0 736.2,1886.5 740.0,1916.5 745.0,1941.5 750.0,1974.0 753.8,2004.0 758.8,2039.0 765.0,2074.0 770.0,2104.0 775.0,2139.0 780.0,2174.0 781.2,2196.5 785.0,2226.5 788.8,2259.0 792.5,2289.0 796.2,2319.0 798.8,2339.0 802.5,2339.5 812.5,2344.5 818.8,2372.0 830.0,2377.0 837.5,2374.5 843.8,2379.5 843.8,2390.5 837.5,2395.5 830.0,2400.5 818.8,2385.5 812.5,2370.5 802.5,2353.0 798.8,2341.0 796.2,2321.0 792.5,2291.0 788.8,2261.0 785.0,2228.5 781.2,2198.5 780.0,2176.0 775.0,2141.0 770.0,2106.0 765.0,2076.0 758.8,2041.0 753.8,2006.0 750.0,1976.0 745.0,1943.5 740.0,1918.5 736.2,1888.5 733.8,1873.0 728.0,1873.2 722.5,1875.5 715.0,1885.5 710.0,1895.5 700.0,1933.0 690.0,1973.0 677.5,2005.5 671.7,2009.7 663.3,2026.3 653.3,2036.3 643.3,2073.0 630.0,2079.7 620.0,2089.7 610.0,2094.7 601.7,2093.0 591.7,2099.7 581.7,2096.3 573.3,2086.3 561.7,2089.7 550.0,2079.7 541.7,2073.0 531.7,2066.3 520.0,2053.0 510.0,2025.0 501.7,2006.3 496.7,1973.0 488.3,1971.3 478.3,1933.0 471.7,1943.0 465.0,1913.0 458.3,1919.7 450.0,1903.0 441.7,1936.3 435.0,1926.3 430.0,1933.0 421.7,1943.0 413.3,1969.7 403.3,1976.3 393.3,1996.3 383.3,1999.7 375.0,1989.7 363.3,2009.7 353.3,2009.7 342.7,2006.3 333.3,2016.3 323.3,2019.7 313.3,2013.0 300.0,2029.7 291.7,2023.0 283.3,2029.7 273.3,2043.0 265.0,2033.0 253.3,2043.0 243.3,2046.3 233.3,2049.7 224.0,2046.3 220.0,2063.0 210.0,2051.7 200.0,2056.3 188.3,2063.0 180.0,2079.7 173.3,2066.3 163.3,2073.0 153.3,2059.7 148.3,2086.3 140.0,2073.0 133.3,2073.0" fill="#ff0000" stroke="#ff0000" stroke-width="3.2" stroke-linejoin="round"/>
<polyline points="132.0,2053.7 134.6,2076.3 138.7,2057.0 141.3,2076.3 143.6,2060.0 147.0,2089.7 149.6,2060.3 152.0,2063.0 154.6,2028.7 156.9,2058.9 159.6,2047.6 162.0,2076.3 164.6,2040.3 167.6,2068.1 172.0,2037.0 174.6,2069.7 178.7,2040.3 181.3,2083.0 184.0,2048.2 187.0,2066.3 189.6,2028.7 191.9,2052.6 194.9,2033.1 198.7,2059.7 201.3,2027.0 204.2,2051.5 208.7,2043.7 211.3,2053.0 214.1,2047.9 217.1,2056.8 218.7,2040.3 221.3,2066.3 222.7,2005.3 225.3,2049.7 228.3,2018.2 232.0,2053.0 234.6,2020.3 237.6,2043.1 240.1,2027.4 242.0,2049.7 244.6,2015.3 247.0,2046.0 249.9,2018.6 252.0,2046.3 254.6,2017.0 257.2,2035.5 260.0,2011.7 263.7,2036.3 266.3,1990.3 268.7,2032.9 272.0,2000.3 274.6,2046.3 277.1,2009.2 280.0,2030.0 282.0,1997.0 284.6,2033.0 287.3,1995.5 290.4,2026.3 293.0,1987.0 295.5,2023.4 298.7,2010.3 301.3,2033.0 304.2,2011.1 307.2,2019.2 309.6,2001.8 312.0,2016.3 314.6,1985.3 317.3,2014.2 320.0,1997.7 322.0,2023.0 324.6,1997.0 326.9,2016.4 330.1,2003.0 332.0,2019.7 334.6,1997.0 337.4,2013.3 341.4,1977.0 344.0,2009.7 346.8,1992.7 349.7,2004.4 352.0,1993.7 354.6,2013.0 357.3,1997.2 362.0,2013.0 364.6,1990.3 367.4,2000.7 370.6,1978.9 373.7,1993.0 376.3,1960.3 379.1,1988.0 382.0,1970.3 384.6,2003.0 387.6,1971.0 392.0,1999.7 394.6,1967.0 397.3,1985.9 399.8,1959.5 402.0,1979.7 404.6,1940.3 407.0,1974.3 412.0,1930.3 414.6,1973.0 417.1,1923.7 420.4,1946.3 423.0,1907.0 425.4,1932.6 428.7,1920.3 431.3,1936.3 433.7,1883.7 436.3,1929.7 438.6,1898.3 440.4,1939.7 443.0,1893.7 445.4,1915.5 448.7,1890.3 451.3,1906.3 454.2,1890.5 457.0,1923.0 459.6,1887.0 463.7,1916.3 466.3,1873.7 468.5,1927.5 470.4,1910.3 473.0,1946.3 477.0,1910.3 479.6,1936.3 482.4,1930.2 485.3,1958.6 487.0,1938.7 489.6,1974.7 492.0,1950.5 495.4,1976.3 498.0,1960.3 500.4,2009.7 503.0,1993.7 505.9,2014.9 508.7,2017.0 511.3,2026.3 513.9,2025.0 516.2,2040.6 518.7,2027.0 521.3,2056.3 524.1,2033.5 527.2,2054.1 530.4,2040.3 533.0,2069.7 535.4,2052.1 537.8,2070.0 540.4,2057.0 543.0,2076.3 545.8,2055.3 548.7,2083.0 551.3,2050.3 554.0,2082.4 557.3,2063.8 560.4,2093.0 563.0,2052.0 565.5,2081.2 568.4,2065.8 572.0,2089.7 574.6,2070.3 577.0,2086.6 580.4,2070.3 583.0,2099.7 585.7,2078.8 590.4,2103.0 593.0,2067.0 595.3,2094.7 598.7,2077.7 600.4,2096.3 603.0,2070.3 605.7,2094.2 608.7,2073.7 611.3,2098.0 613.5,2073.7 616.1,2088.6 618.7,2060.3 621.3,2093.0 623.6,2066.0 627.0,2079.3 628.7,2057.0 631.3,2083.0 634.1,2051.9 637.6,2069.8 642.0,2033.7 644.6,2076.3 647.5,2031.1 649.9,2049.3 652.0,2020.3 654.6,2039.7 657.6,2022.5 660.4,2027.9 662.0,2010.3 664.6,2029.7 667.1,2007.6 670.4,2013.0 673.0,1987.0 676.2,2008.8 678.8,1958.7 681.7,1982.0 684.8,1943.8 688.7,1976.3 691.3,1918.7 693.7,1957.2 698.7,1881.2 701.3,1936.3 703.7,1881.3 706.4,1909.0 708.7,1873.7 711.3,1898.8 713.7,1863.7 716.3,1888.8 718.6,1864.9 721.2,1878.8 723.8,1856.2 726.7,1876.3 729.3,1861.2 732.5,1876.3 735.0,1858.7 736.9,1865.9 733.6,1873.1 738.1,1880.3 736.2,1887.5 738.0,1895.0 736.0,1902.5 740.6,1910.0 740.0,1917.5 742.6,1925.8 742.2,1934.2 745.0,1942.5 747.2,1950.6 746.6,1958.8 750.9,1966.9 750.0,1975.0 751.9,1982.5 750.4,1990.0 754.7,1997.5 753.8,2005.0 755.6,2012.0 754.5,2019.0 758.1,2026.0 755.7,2033.0 758.8,2040.0 761.4,2047.0 759.6,2054.0 763.4,2061.0 762.0,2068.0 765.0,2075.0 768.0,2082.5 766.2,2090.0 770.0,2097.5 770.0,2105.0 771.9,2112.0 771.0,2119.0 774.4,2126.0 772.1,2133.0 775.0,2140.0 777.5,2147.0 775.3,2154.0 779.7,2161.0 778.2,2168.0 780.0,2175.0 782.0,2182.5 779.6,2190.0 781.2,2197.5 784.0,2205.0 781.0,2212.5 785.3,2220.0 785.0,2227.5 787.5,2235.6 785.8,2243.8 789.2,2251.9 788.8,2260.0 791.3,2267.5 788.7,2275.0 792.7,2282.5 792.5,2290.0 795.3,2297.5 793.3,2305.0 796.9,2312.5 796.2,2320.0 799.1,2330.0 798.8,2340.0 801.2,2356.3 803.8,2336.2 806.2,2357.2 808.9,2347.8 811.2,2373.8 813.8,2341.2 817.5,2388.8 820.0,2368.7 822.7,2391.1 825.5,2374.2 828.7,2403.8 831.3,2373.7 833.5,2394.5 836.2,2371.2 838.8,2398.8 842.5,2376.2 845.0,2393.8" fill="none" stroke="#ff0000" stroke-width="8.5" stroke-linejoin="round" stroke-linecap="round"/>
<polygon points="133.8,1912.0 140.0,1900.8 147.5,1899.5 157.5,1917.0 166.2,1907.0 173.0,1877.0 178.8,1901.8 186.2,1899.5 192.5,1902.0 200.0,1894.5 207.5,1887.0 216.2,1884.5 222.5,1872.0 227.5,1859.5 232.5,1839.5 237.5,1863.5 241.2,1869.5 248.8,1840.8 256.2,1847.0 265.0,1839.5 273.8,1844.5 280.0,1854.5 290.0,1847.0 296.2,1845.8 305.0,1849.5 311.2,1847.0 316.2,1849.5 323.8,1834.5 330.0,1827.0 334.5,1807.0 341.2,1827.0 347.5,1837.0 355.0,1837.0 359.5,1800.8 366.2,1819.5 375.0,1803.2 381.2,1807.0 388.8,1764.5 395.0,1767.0 402.5,1767.0 410.0,1742.0 417.5,1727.0 425.0,1734.5 430.0,1700.8 437.5,1713.2 442.5,1709.5 447.5,1692.0 455.0,1702.0 461.2,1707.0 468.8,1717.0 477.5,1722.0 482.5,1752.0 492.5,1774.5 496.2,1793.8 505.0,1809.5 510.0,1829.5 516.2,1854.5 520.0,1862.0 530.0,1872.0 535.0,1867.0 541.7,1877.0 550.0,1880.3 557.3,1867.0 566.7,1883.7 576.7,1890.3 590.0,1893.7 600.0,1878.7 610.0,1893.7 621.7,1897.0 630.0,1868.7 638.3,1880.3 646.7,1870.3 656.7,1847.0 662.5,1842.0 667.5,1824.5 675.0,1802.0 676.2,1769.5 685.0,1762.0 687.5,1744.5 692.5,1735.8 698.8,1744.5 702.5,1717.0 705.0,1695.8 712.5,1679.5 717.5,1652.0 721.2,1649.5 727.5,1677.0 735.0,1697.0 741.2,1709.5 743.8,1743.0 750.0,1773.0 752.5,1811.2 756.2,1849.5 760.0,1890.5 763.8,1913.1 765.0,1929.0 770.0,1959.0 775.0,1991.5 777.5,2029.0 782.5,2074.0 787.5,2114.0 791.2,2144.0 796.2,2189.0 801.2,2209.0 803.8,2226.5 810.0,2237.0 818.8,2242.0 825.0,2254.2 829.2,2243.2 835.0,2254.5 843.8,2247.0 843.8,2260.5 835.0,2265.5 829.2,2260.5 825.0,2263.2 818.8,2273.0 810.0,2253.0 803.8,2228.5 801.2,2211.0 796.2,2191.0 791.2,2146.0 787.5,2116.0 782.5,2076.0 777.5,2031.0 775.0,1993.5 770.0,1961.0 765.0,1931.0 763.8,1917.2 760.0,1894.5 756.2,1855.5 752.5,1816.2 750.0,1777.0 743.8,1747.0 741.2,1720.5 735.0,1713.0 727.5,1705.5 721.2,1670.5 717.5,1673.0 712.5,1713.0 705.0,1713.0 702.5,1728.0 698.8,1755.5 692.5,1748.0 687.5,1763.0 685.0,1775.5 676.2,1793.0 675.0,1813.0 667.5,1843.0 662.5,1865.5 656.7,1866.3 646.7,1886.3 638.3,1923.0 630.0,1913.0 621.7,1928.0 610.0,1916.3 600.0,1909.7 590.0,1919.7 576.7,1913.0 566.7,1893.0 557.3,1896.3 550.0,1896.3 541.7,1906.3 535.0,1883.0 530.0,1900.5 520.0,1880.5 516.2,1860.5 510.0,1835.5 505.0,1825.5 496.2,1798.8 492.5,1788.0 482.5,1768.0 477.5,1744.2 468.8,1735.5 461.2,1738.0 455.0,1741.8 447.5,1715.5 442.5,1733.0 437.5,1738.0 430.0,1740.5 425.0,1755.5 417.5,1753.0 410.0,1768.0 402.5,1785.5 395.0,1803.0 388.8,1805.5 381.2,1828.0 375.0,1828.0 366.2,1838.0 359.5,1840.5 355.0,1851.8 347.5,1843.0 341.2,1864.2 334.5,1840.5 330.0,1840.5 323.8,1860.5 316.2,1879.2 311.2,1870.5 305.0,1865.5 296.2,1860.5 290.0,1879.2 280.0,1865.5 273.8,1864.2 265.0,1883.0 256.2,1883.0 248.8,1880.5 241.2,1893.0 237.5,1871.5 232.5,1873.0 227.5,1878.0 222.5,1885.5 216.2,1908.0 207.5,1930.5 200.0,1910.5 192.5,1925.5 186.2,1918.0 178.8,1910.8 173.0,1908.0 166.2,1928.0 157.5,1935.5 147.5,1930.5 140.0,1925.5 133.8,1933.2" fill="#0000ff" stroke="#0000ff" stroke-width="3.2" stroke-linejoin="round"/>
<polyline points="132.4,1908.7 135.1,1936.6 138.7,1897.4 141.3,1928.8 144.0,1907.3 146.2,1933.8 148.8,1896.2 151.5,1925.2 156.2,1913.7 158.8,1938.8 161.1,1916.2 164.9,1931.3 167.6,1903.7 171.7,1911.3 174.3,1873.7 177.4,1913.8 180.1,1898.7 182.7,1913.8 184.9,1896.2 187.6,1921.3 191.2,1898.7 193.8,1928.8 196.2,1899.0 198.7,1913.8 201.3,1891.2 203.5,1914.6 206.2,1883.7 208.8,1933.8 211.3,1895.6 214.9,1911.3 217.6,1881.2 221.2,1888.8 223.8,1868.7 226.2,1881.3 228.8,1856.2 231.2,1876.3 233.8,1836.2 236.2,1873.8 238.8,1861.2 239.9,1896.3 242.6,1866.2 245.0,1885.4 247.4,1837.4 250.1,1883.8 252.8,1845.1 254.9,1886.3 257.6,1843.7 259.9,1879.8 263.7,1836.2 266.3,1886.3 268.9,1844.4 272.4,1867.6 275.1,1841.2 278.7,1868.8 281.3,1851.2 283.6,1872.0 286.9,1855.2 288.7,1882.6 291.3,1843.7 294.9,1863.8 297.6,1842.4 299.9,1863.8 303.7,1846.2 306.3,1868.8 309.9,1843.7 312.6,1873.8 314.9,1846.2 317.6,1882.6 319.9,1842.9 322.4,1863.8 325.1,1831.2 328.7,1843.8 331.3,1823.7 333.2,1843.8 335.8,1803.7 338.3,1847.8 339.9,1823.7 342.6,1867.6 346.2,1836.2 348.8,1843.8 351.1,1837.9 353.7,1855.1 356.3,1833.7 358.2,1843.8 360.8,1797.4 363.1,1831.2 364.9,1816.2 367.6,1841.3 370.2,1814.3 373.7,1831.3 376.3,1799.9 379.9,1831.3 382.6,1803.7 385.3,1815.0 387.4,1761.2 390.1,1808.8 393.7,1763.7 396.3,1806.3 398.5,1766.6 401.2,1788.8 403.8,1763.7 406.6,1773.5 408.7,1738.7 411.3,1771.3 413.9,1735.4 416.2,1756.3 418.8,1723.7 421.8,1751.7 423.7,1731.2 426.3,1758.8 428.7,1697.4 431.3,1743.8 434.1,1710.3 436.2,1741.3 438.8,1709.9 441.2,1736.3 443.8,1706.2 446.2,1718.8 448.8,1688.7 451.5,1727.2 453.7,1698.7 456.3,1745.1 459.9,1703.7 462.6,1741.3 465.5,1718.8 467.4,1738.8 470.1,1713.7 472.9,1733.9 476.2,1718.7 478.8,1747.6 481.2,1748.7 483.8,1771.3 486.5,1762.2 491.2,1791.3 493.8,1771.2 494.9,1798.8 497.6,1793.7 500.3,1811.1 503.7,1806.2 506.3,1828.8 508.7,1828.7 511.3,1836.3 515.0,1853.7 517.5,1861.3 518.7,1858.7 521.3,1883.8 523.7,1865.7 527.1,1895.4 528.7,1868.7 531.3,1903.8 533.7,1863.7 536.3,1886.3 540.4,1873.7 543.0,1909.7 546.0,1883.1 548.7,1899.7 551.3,1877.0 554.3,1894.1 556.0,1863.7 558.6,1899.7 561.5,1873.8 565.4,1896.3 568.0,1880.3 570.2,1897.3 573.4,1888.0 575.4,1916.3 578.0,1887.0 580.5,1909.2 583.6,1898.7 588.7,1923.0 591.3,1890.3 594.1,1908.1 596.4,1882.9 598.7,1913.0 601.3,1875.3 604.0,1910.2 606.4,1890.2 608.7,1919.7 611.3,1890.3 613.9,1917.3 616.4,1895.0 620.4,1931.3 623.0,1893.7 625.3,1921.0 628.7,1865.3 631.3,1916.3 633.6,1885.5 637.0,1926.3 639.6,1877.0 642.2,1900.0 645.4,1867.0 648.0,1889.7 650.2,1860.8 652.9,1873.1 655.4,1843.7 658.0,1869.7 661.2,1838.7 663.8,1868.8 666.2,1821.2 668.8,1846.3 671.0,1814.9 673.7,1816.3 676.3,1798.7 675.0,1796.3 677.5,1766.2 680.3,1784.9 683.7,1758.7 686.3,1778.8 686.2,1741.2 688.8,1766.3 691.2,1732.4 693.8,1751.3 697.5,1741.2 700.0,1758.8 701.2,1713.7 703.8,1731.3 703.7,1692.4 706.3,1716.3 709.0,1695.0 711.2,1716.3 713.8,1676.2 716.2,1676.3 718.8,1648.7 720.0,1673.8 722.5,1646.2 726.2,1708.8 728.8,1673.7 731.6,1706.9 733.7,1693.7 736.3,1716.3 740.0,1706.2 742.5,1723.8 743.9,1730.9 741.7,1738.0 743.8,1745.0 746.4,1752.5 744.8,1760.0 749.8,1767.5 750.0,1775.0 751.2,1811.2 753.8,1816.3 755.0,1848.7 757.5,1856.3 760.1,1863.6 756.9,1870.8 760.1,1878.0 757.8,1885.3 760.0,1892.5 763.2,1900.0 761.1,1907.6 763.8,1915.1 765.3,1922.6 765.0,1930.0 767.3,1937.5 766.4,1945.0 769.6,1952.5 770.0,1960.0 772.6,1968.1 771.0,1976.2 774.8,1984.4 775.0,1992.5 777.4,2000.0 775.1,2007.5 777.5,2015.0 775.5,2022.5 777.5,2030.0 780.4,2037.5 777.6,2045.0 780.9,2052.5 778.8,2060.0 783.9,2067.5 782.5,2075.0 785.0,2083.0 783.2,2091.0 787.1,2099.0 784.6,2107.0 787.5,2115.0 789.9,2122.5 787.9,2130.0 791.5,2137.5 791.2,2145.0 793.6,2152.5 791.7,2160.0 795.2,2167.5 792.5,2175.0 796.5,2182.5 796.2,2190.0 800.0,2200.0 801.2,2210.0 803.7,2218.8 803.8,2227.5 808.7,2233.7 811.3,2256.3 814.2,2245.7 817.5,2276.3 820.0,2238.7 823.7,2266.3 826.3,2251.2 828.0,2263.8 830.5,2239.9 833.7,2268.8 836.3,2251.2 838.7,2262.2 842.5,2243.7 845.0,2263.8" fill="none" stroke="#0000ff" stroke-width="8.5" stroke-linejoin="round" stroke-linecap="round"/>
</g>
<rect x="129.3" y="1520.5" width="7.6" height="1061.5" fill="#000"/>
<rect x="844.1" y="1520.5" width="6.8" height="1061.5" fill="#000"/>
<rect x="129.3" y="1520.5" width="721.6" height="7.6" fill="#000"/>
<rect x="129.3" y="2574.6" width="721.6" height="7.4" fill="#000"/>
<line x1="133.1" y1="2578.3" x2="133.1" y2="2598.7" stroke="#000" stroke-width="7.6" stroke-linecap="round"/>
<line x1="847.5" y1="2578.3" x2="847.5" y2="2599.1" stroke="#000" stroke-width="6.8" stroke-linecap="round"/>
<line x1="152.1" y1="1525.0" x2="152.1" y2="1534.7" stroke="#000" stroke-width="6.6" stroke-linecap="round"/>
<line x1="152.1" y1="2579.0" x2="152.1" y2="2589.2" stroke="#000" stroke-width="6.6" stroke-linecap="round"/>
<line x1="172.5" y1="1525.0" x2="172.5" y2="1534.7" stroke="#000" stroke-width="6.6" stroke-linecap="round"/>
<line x1="172.5" y1="2579.0" x2="172.5" y2="2589.2" stroke="#000" stroke-width="6.6" stroke-linecap="round"/>
<line x1="193.0" y1="1525.0" x2="193.0" y2="1534.7" stroke="#000" stroke-width="6.6" stroke-linecap="round"/>
<line x1="193.0" y1="2579.0" x2="193.0" y2="2589.2" stroke="#000" stroke-width="6.6" stroke-linecap="round"/>
<line x1="213.5" y1="1525.0" x2="213.5" y2="1534.7" stroke="#000" stroke-width="6.6" stroke-linecap="round"/>
<line x1="213.5" y1="2579.0" x2="213.5" y2="2589.2" stroke="#000" stroke-width="6.6" stroke-linecap="round"/>
<line x1="233.9" y1="1525.0" x2="233.9" y2="1544.7" stroke="#000" stroke-width="6.6" stroke-linecap="round"/>
<line x1="233.9" y1="2579.0" x2="233.9" y2="2599.2" stroke="#000" stroke-width="6.6" stroke-linecap="round"/>
<line x1="254.4" y1="1525.0" x2="254.4" y2="1534.7" stroke="#000" stroke-width="6.6" stroke-linecap="round"/>
<line x1="254.4" y1="2579.0" x2="254.4" y2="2589.2" stroke="#000" stroke-width="6.6" stroke-linecap="round"/>
<line x1="274.9" y1="1525.0" x2="274.9" y2="1534.7" stroke="#000" stroke-width="6.6" stroke-linecap="round"/>
<line x1="274.9" y1="2579.0" x2="274.9" y2="2589.2" stroke="#000" stroke-width="6.6" stroke-linecap="round"/>
<line x1="295.4" y1="1525.0" x2="295.4" y2="1534.7" stroke="#000" stroke-width="6.6" stroke-linecap="round"/>
<line x1="295.4" y1="2579.0" x2="295.4" y2="2589.2" stroke="#000" stroke-width="6.6" stroke-linecap="round"/>
<line x1="315.8" y1="1525.0" x2="315.8" y2="1534.7" stroke="#000" stroke-width="6.6" stroke-linecap="round"/>
<line x1="315.8" y1="2579.0" x2="315.8" y2="2589.2" stroke="#000" stroke-width="6.6" stroke-linecap="round"/>
<line x1="336.3" y1="1525.0" x2="336.3" y2="1544.7" stroke="#000" stroke-width="6.6" stroke-linecap="round"/>
<line x1="336.3" y1="2579.0" x2="336.3" y2="2599.2" stroke="#000" stroke-width="6.6" stroke-linecap="round"/>
<line x1="356.8" y1="1525.0" x2="356.8" y2="1534.7" stroke="#000" stroke-width="6.6" stroke-linecap="round"/>
<line x1="356.8" y1="2579.0" x2="356.8" y2="2589.2" stroke="#000" stroke-width="6.6" stroke-linecap="round"/>
<line x1="377.2" y1="1525.0" x2="377.2" y2="1534.7" stroke="#000" stroke-width="6.6" stroke-linecap="round"/>
<line x1="377.2" y1="2579.0" x2="377.2" y2="2589.2" stroke="#000" stroke-width="6.6" stroke-linecap="round"/>
<line x1="397.7" y1="1525.0" x2="397.7" y2="1534.7" stroke="#000" stroke-width="6.6" stroke-linecap="round"/>
<line x1="397.7" y1="2579.0" x2="397.7" y2="2589.2" stroke="#000" stroke-width="6.6" stroke-linecap="round"/>
<line x1="418.2" y1="1525.0" x2="418.2" y2="1534.7" stroke="#000" stroke-width="6.6" stroke-linecap="round"/>
<line x1="418.2" y1="2579.0" x2="418.2" y2="2589.2" stroke="#000" stroke-width="6.6" stroke-linecap="round"/>
<line x1="438.6" y1="1525.0" x2="438.6" y2="1544.7" stroke="#000" stroke-width="6.6" stroke-linecap="round"/>
<line x1="438.6" y1="2579.0" x2="438.6" y2="2599.2" stroke="#000" stroke-width="6.6" stroke-linecap="round"/>
<line x1="459.1" y1="1525.0" x2="459.1" y2="1534.7" stroke="#000" stroke-width="6.6" stroke-linecap="round"/>
<line x1="459.1" y1="2579.0" x2="459.1" y2="2589.2" stroke="#000" stroke-width="6.6" stroke-linecap="round"/>
<line x1="479.6" y1="1525.0" x2="479.6" y2="1534.7" stroke="#000" stroke-width="6.6" stroke-linecap="round"/>
<line x1="479.6" y1="2579.0" x2="479.6" y2="2589.2" stroke="#000" stroke-width="6.6" stroke-linecap="round"/>
<line x1="500.1" y1="1525.0" x2="500.1" y2="1534.7" stroke="#000" stroke-width="6.6" stroke-linecap="round"/>
<line x1="500.1" y1="2579.0" x2="500.1" y2="2589.2" stroke="#000" stroke-width="6.6" stroke-linecap="round"/>
<line x1="520.5" y1="1525.0" x2="520.5" y2="1534.7" stroke="#000" stroke-width="6.6" stroke-linecap="round"/>
<line x1="520.5" y1="2579.0" x2="520.5" y2="2589.2" stroke="#000" stroke-width="6.6" stroke-linecap="round"/>
<line x1="541.0" y1="1525.0" x2="541.0" y2="1544.7" stroke="#000" stroke-width="6.6" stroke-linecap="round"/>
<line x1="541.0" y1="2579.0" x2="541.0" y2="2599.2" stroke="#000" stroke-width="6.6" stroke-linecap="round"/>
<line x1="561.5" y1="1525.0" x2="561.5" y2="1534.7" stroke="#000" stroke-width="6.6" stroke-linecap="round"/>
<line x1="561.5" y1="2579.0" x2="561.5" y2="2589.2" stroke="#000" stroke-width="6.6" stroke-linecap="round"/>
<line x1="581.9" y1="1525.0" x2="581.9" y2="1534.7" stroke="#000" stroke-width="6.6" stroke-linecap="round"/>
<line x1="581.9" y1="2579.0" x2="581.9" y2="2589.2" stroke="#000" stroke-width="6.6" stroke-linecap="round"/>
<line x1="602.4" y1="1525.0" x2="602.4" y2="1534.7" stroke="#000" stroke-width="6.6" stroke-linecap="round"/>
<line x1="602.4" y1="2579.0" x2="602.4" y2="2589.2" stroke="#000" stroke-width="6.6" stroke-linecap="round"/>
<line x1="622.9" y1="1525.0" x2="622.9" y2="1534.7" stroke="#000" stroke-width="6.6" stroke-linecap="round"/>
<line x1="622.9" y1="2579.0" x2="622.9" y2="2589.2" stroke="#000" stroke-width="6.6" stroke-linecap="round"/>
<line x1="643.4" y1="1525.0" x2="643.4" y2="1544.7" stroke="#000" stroke-width="6.6" stroke-linecap="round"/>
<line x1="643.4" y1="2579.0" x2="643.4" y2="2599.2" stroke="#000" stroke-width="6.6" stroke-linecap="round"/>
<line x1="663.8" y1="1525.0" x2="663.8" y2="1534.7" stroke="#000" stroke-width="6.6" stroke-linecap="round"/>
<line x1="663.8" y1="2579.0" x2="663.8" y2="2589.2" stroke="#000" stroke-width="6.6" stroke-linecap="round"/>
<line x1="684.3" y1="1525.0" x2="684.3" y2="1534.7" stroke="#000" stroke-width="6.6" stroke-linecap="round"/>
<line x1="684.3" y1="2579.0" x2="684.3" y2="2589.2" stroke="#000" stroke-width="6.6" stroke-linecap="round"/>
<line x1="704.8" y1="1525.0" x2="704.8" y2="1534.7" stroke="#000" stroke-width="6.6" stroke-linecap="round"/>
<line x1="704.8" y1="2579.0" x2="704.8" y2="2589.2" stroke="#000" stroke-width="6.6" stroke-linecap="round"/>
<line x1="725.2" y1="1525.0" x2="725.2" y2="1534.7" stroke="#000" stroke-width="6.6" stroke-linecap="round"/>
<line x1="725.2" y1="2579.0" x2="725.2" y2="2589.2" stroke="#000" stroke-width="6.6" stroke-linecap="round"/>
<line x1="745.7" y1="1525.0" x2="745.7" y2="1544.7" stroke="#000" stroke-width="6.6" stroke-linecap="round"/>
<line x1="745.7" y1="2579.0" x2="745.7" y2="2599.2" stroke="#000" stroke-width="6.6" stroke-linecap="round"/>
<line x1="766.2" y1="1525.0" x2="766.2" y2="1534.7" stroke="#000" stroke-width="6.6" stroke-linecap="round"/>
<line x1="766.2" y1="2579.0" x2="766.2" y2="2589.2" stroke="#000" stroke-width="6.6" stroke-linecap="round"/>
<line x1="786.6" y1="1525.0" x2="786.6" y2="1534.7" stroke="#000" stroke-width="6.6" stroke-linecap="round"/>
<line x1="786.6" y1="2579.0" x2="786.6" y2="2589.2" stroke="#000" stroke-width="6.6" stroke-linecap="round"/>
<line x1="807.1" y1="1525.0" x2="807.1" y2="1534.7" stroke="#000" stroke-width="6.6" stroke-linecap="round"/>
<line x1="807.1" y1="2579.0" x2="807.1" y2="2589.2" stroke="#000" stroke-width="6.6" stroke-linecap="round"/>
<line x1="827.6" y1="1525.0" x2="827.6" y2="1534.7" stroke="#000" stroke-width="6.6" stroke-linecap="round"/>
<line x1="827.6" y1="2579.0" x2="827.6" y2="2589.2" stroke="#000" stroke-width="6.6" stroke-linecap="round"/>
<text x="131.6" y="2649.0" font-size="45.5" textLength="71.3" lengthAdjust="spacingAndGlyphs" text-anchor="middle">740</text>
<text x="233.9" y="2649.0" font-size="45.5" textLength="71.3" lengthAdjust="spacingAndGlyphs" text-anchor="middle">735</text>
<text x="336.3" y="2649.0" font-size="45.5" textLength="71.3" lengthAdjust="spacingAndGlyphs" text-anchor="middle">730</text>
<text x="438.6" y="2649.0" font-size="45.5" textLength="71.3" lengthAdjust="spacingAndGlyphs" text-anchor="middle">725</text>
<text x="541.0" y="2649.0" font-size="45.5" textLength="71.3" lengthAdjust="spacingAndGlyphs" text-anchor="middle">720</text>
<text x="643.4" y="2649.0" font-size="45.5" textLength="71.3" lengthAdjust="spacingAndGlyphs" text-anchor="middle">715</text>
<text x="745.7" y="2649.0" font-size="45.5" textLength="71.3" lengthAdjust="spacingAndGlyphs" text-anchor="middle">710</text>
<text x="848.0" y="2649.0" font-size="45.5" textLength="71.3" lengthAdjust="spacingAndGlyphs" text-anchor="middle">705</text>
<text x="391.5" y="2735.5" font-size="54.0" textLength="197.4" lengthAdjust="spacingAndGlyphs">BE (eV)</text>
<text x="690.4" y="1620.0" font-size="47.5" textLength="107.9" lengthAdjust="spacingAndGlyphs" class="b" style="stroke:#000;stroke-width:0.7px;stroke-linejoin:round">Fe2p</text>
</g>
<g id="bR">
<g clip-path="url(#cbR)">
<polyline points="892.5,2500.0 897.5,2496.2 901.2,2483.8 906.2,2500.0 912.5,2511.2 918.8,2495.0 925.0,2491.2 932.5,2496.2 940.0,2498.8 948.8,2502.5 957.5,2505.0 965.0,2506.2 971.2,2491.2 976.2,2500.0 982.5,2507.5 990.0,2496.2 995.0,2508.8 1002.5,2503.8 1010.0,2500.0 1016.2,2491.2 1025.0,2507.5 1035.0,2502.5 1042.5,2495.0 1050.0,2495.0 1057.5,2502.5 1063.8,2505.0 1071.2,2498.8 1077.5,2498.8 1086.2,2487.5 1093.8,2491.2 1100.0,2491.2 1107.5,2487.5 1115.0,2490.0 1122.5,2491.2 1129.5,2496.2 1136.2,2481.2 1142.5,2482.5 1145.0,2487.5 1148.8,2478.8 1153.8,2485.0 1161.2,2481.2 1166.2,2478.8 1170.0,2465.0 1173.8,2456.2 1177.5,2463.8 1185.0,2462.5 1191.2,2466.2 1197.5,2468.8 1202.5,2462.5 1208.8,2458.8 1212.5,2442.5 1217.5,2436.2 1225.0,2433.8 1232.5,2427.5 1237.5,2410.0 1245.0,2402.5 1252.5,2396.2 1258.8,2385.0 1265.0,2381.2 1270.0,2360.0 1277.5,2352.5 1281.2,2340.0 1283.8,2332.5 1290.0,2320.0 1295.0,2292.5 1302.5,2272.5 1310.0,2247.5 1317.5,2232.5 1325.0,2212.5 1328.8,2187.5 1335.0,2172.5 1340.0,2152.5 1343.8,2140.0 1347.5,2112.5 1352.5,2092.5 1358.8,2080.0 1362.5,2055.0 1363.8,2030.0 1372.5,2052.5 1377.5,2035.0 1383.8,2010.0 1390.0,2027.5 1393.8,2050.0 1397.5,2075.0 1400.0,2095.0 1405.0,2110.0 1408.8,2135.0 1411.2,2160.2 1415.0,2207.5 1418.8,2240.0 1423.8,2280.0 1428.8,2320.0 1433.8,2360.0 1438.8,2395.0 1443.8,2422.5 1452.5,2450.0 1457.5,2470.0 1462.5,2480.5 1470.0,2488.0 1473.8,2505.5 1480.0,2513.0 1490.0,2518.0 1497.5,2524.2 1505.0,2528.0 1508.8,2533.0 1516.2,2514.2 1523.8,2530.5 1530.0,2521.8 1537.5,2523.0 1545.0,2529.2 1552.5,2525.5 1560.0,2534.2 1570.0,2531.8 1578.8,2533.0" fill="none" stroke="#000000" stroke-width="7.0" stroke-linejoin="round" stroke-linecap="round"/>
<polyline points="892.5,2375.0 897.5,2391.2 905.0,2380.0 915.0,2370.0 922.0,2395.0 928.8,2367.5 936.2,2378.8 942.5,2371.2 950.0,2370.0 956.2,2352.5 965.0,2346.2 975.0,2358.8 980.0,2353.8 986.2,2325.0 990.8,2308.8 996.2,2322.5 1002.5,2315.0 1007.5,2327.5 1015.0,2321.2 1021.2,2331.2 1027.5,2340.0 1033.8,2347.5 1040.0,2351.2 1045.0,2368.8 1048.8,2380.0 1056.2,2368.8 1062.5,2376.2 1070.0,2381.2 1077.5,2375.0 1086.2,2372.5 1093.8,2383.8 1101.2,2377.5 1108.0,2371.2 1113.8,2378.8 1122.5,2373.8 1131.2,2366.2 1136.2,2367.5 1141.2,2358.8 1147.5,2366.2 1154.5,2373.8 1161.2,2368.8 1167.5,2370.0 1175.0,2353.8 1181.2,2355.0 1187.5,2358.8 1193.8,2341.2 1202.5,2350.0 1209.5,2332.5 1216.2,2351.2 1222.5,2330.0 1230.0,2320.0 1240.0,2305.0 1245.0,2307.5 1250.0,2277.5 1258.8,2286.2 1263.8,2270.0 1268.8,2270.0 1273.8,2247.5 1278.8,2233.8 1286.2,2225.0 1292.5,2212.5 1298.8,2197.5 1303.8,2182.5 1308.8,2160.0 1312.5,2140.0 1317.5,2120.0 1325.0,2112.5 1328.8,2085.0 1332.5,2060.0 1338.8,2045.0 1345.0,2022.5 1350.0,2000.0 1355.0,1975.0 1358.8,1960.0 1364.5,1956.2 1368.8,1932.5 1372.5,1918.8 1377.0,1915.0 1380.0,1932.5 1385.0,1927.5 1391.2,1925.0 1395.0,1930.0 1398.8,1952.5 1402.5,1970.0 1406.2,1985.0 1408.8,2010.0 1412.5,2035.0 1415.0,2042.5 1417.5,2065.0 1421.2,2090.0 1425.0,2117.5 1430.0,2142.5 1432.5,2160.2 1435.0,2185.0 1437.5,2207.5 1442.5,2217.5 1445.0,2240.0 1448.8,2270.0 1451.2,2300.0 1455.0,2320.0 1460.0,2340.0 1466.2,2352.5 1471.2,2370.0 1477.5,2370.0 1482.5,2380.0 1487.5,2392.5 1491.2,2397.5 1497.5,2402.5 1502.5,2412.5 1507.5,2410.0 1513.8,2407.5 1520.0,2413.8 1528.8,2418.8 1536.2,2412.5 1543.8,2413.8 1552.5,2417.5 1556.2,2426.2 1561.2,2417.5 1567.5,2415.0 1572.5,2427.5 1577.5,2426.2" fill="none" stroke="#ff0000" stroke-width="7.0" stroke-linejoin="round" stroke-linecap="round"/>
<polyline points="892.5,2262.5 900.0,2266.2 908.8,2263.8 917.5,2273.8 923.8,2260.0 930.0,2262.5 937.5,2270.0 943.8,2245.0 948.8,2260.0 955.0,2261.2 965.0,2273.8 972.5,2255.0 977.5,2248.8 985.0,2245.0 991.2,2225.0 1000.0,2246.2 1008.8,2222.5 1011.2,2217.5 1018.8,2238.8 1026.2,2215.0 1035.0,2220.0 1043.8,2223.8 1048.8,2232.5 1055.0,2220.0 1061.2,2231.2 1067.5,2230.0 1072.5,2242.5 1078.8,2255.0 1087.5,2250.0 1095.0,2260.0 1102.5,2262.5 1108.8,2270.0 1113.8,2258.8 1121.2,2262.5 1128.8,2243.8 1136.2,2253.8 1143.8,2263.8 1150.0,2252.5 1156.2,2253.8 1162.5,2247.5 1168.8,2248.8 1172.5,2253.8 1177.5,2237.5 1183.8,2236.2 1188.8,2240.0 1193.8,2230.0 1200.0,2220.0 1207.5,2223.8 1212.0,2200.0 1217.5,2215.0 1223.8,2192.5 1230.0,2188.8 1237.5,2176.2 1245.0,2171.2 1250.0,2151.2 1257.5,2147.5 1262.5,2140.0 1265.0,2125.0 1270.0,2110.0 1275.0,2100.0 1278.8,2085.0 1283.8,2077.5 1287.5,2060.0 1291.2,2040.0 1298.8,2032.5 1302.5,2010.0 1307.5,1985.0 1310.0,1967.5 1316.2,1957.5 1320.0,1940.0 1323.8,1917.5 1327.5,1897.5 1332.5,1885.0 1333.8,1860.0 1335.0,1845.0 1341.2,1835.0 1346.2,1815.0 1348.8,1795.0 1351.2,1772.5 1360.0,1765.0 1363.8,1745.0 1366.2,1720.0 1370.0,1707.5 1375.0,1697.5 1379.5,1692.5 1383.8,1707.5 1387.0,1718.8 1391.2,1702.5 1395.5,1701.2 1398.8,1720.0 1402.5,1745.0 1406.2,1760.0 1410.0,1790.0 1413.8,1820.0 1417.5,1850.0 1421.2,1880.0 1425.0,1905.0 1430.0,1935.0 1433.8,1965.0 1436.2,1997.5 1440.0,2035.0 1446.2,2072.5 1450.0,2105.0 1453.8,2130.0 1458.8,2160.2 1463.8,2190.0 1468.8,2212.5 1475.0,2232.5 1480.0,2247.5 1487.5,2260.0 1492.5,2272.5 1496.2,2281.2 1503.8,2283.8 1508.8,2288.8 1516.2,2290.0 1522.5,2297.5 1527.5,2305.0 1535.0,2298.8 1542.5,2302.5 1550.0,2300.0 1556.2,2303.8 1561.2,2307.5 1568.8,2301.2 1573.8,2306.2 1578.8,2305.0" fill="none" stroke="#0000ff" stroke-width="7.0" stroke-linejoin="round" stroke-linecap="round"/>
<line x1="1016.8" y1="2000.8" x2="1016.8" y2="2581.0" stroke="#ff7a05" stroke-width="9.6" stroke-dasharray="24.8 10.5" opacity="0.97"/>
</g>
<rect x="888.5" y="1520.5" width="7.6" height="1067.4" fill="#000"/>
<rect x="1611.2" y="1520.5" width="6.8" height="1067.4" fill="#000"/>
<rect x="888.5" y="1520.5" width="729.5" height="7.6" fill="#000"/>
<rect x="888.5" y="2580.5" width="729.5" height="7.4" fill="#000"/>
<line x1="892.3" y1="2584.2" x2="892.3" y2="2595.7" stroke="#000" stroke-width="7.6" stroke-linecap="round"/>
<line x1="1614.6" y1="2584.2" x2="1614.6" y2="2596.1" stroke="#000" stroke-width="6.8" stroke-linecap="round"/>
<line x1="963.7" y1="1525.0" x2="963.7" y2="1544.6" stroke="#000" stroke-width="6.8" stroke-linecap="round"/>
<line x1="963.7" y1="2585.0" x2="963.7" y2="2605.1" stroke="#000" stroke-width="6.8" stroke-linecap="round"/>
<line x1="1035.9" y1="1525.0" x2="1035.9" y2="1534.6" stroke="#000" stroke-width="6.8" stroke-linecap="round"/>
<line x1="1035.9" y1="2585.0" x2="1035.9" y2="2595.1" stroke="#000" stroke-width="6.8" stroke-linecap="round"/>
<line x1="1108.1" y1="1525.0" x2="1108.1" y2="1544.6" stroke="#000" stroke-width="6.8" stroke-linecap="round"/>
<line x1="1108.1" y1="2585.0" x2="1108.1" y2="2605.1" stroke="#000" stroke-width="6.8" stroke-linecap="round"/>
<line x1="1180.3" y1="1525.0" x2="1180.3" y2="1534.6" stroke="#000" stroke-width="6.8" stroke-linecap="round"/>
<line x1="1180.3" y1="2585.0" x2="1180.3" y2="2595.1" stroke="#000" stroke-width="6.8" stroke-linecap="round"/>
<line x1="1252.5" y1="1525.0" x2="1252.5" y2="1544.6" stroke="#000" stroke-width="6.8" stroke-linecap="round"/>
<line x1="1252.5" y1="2585.0" x2="1252.5" y2="2605.1" stroke="#000" stroke-width="6.8" stroke-linecap="round"/>
<line x1="1324.7" y1="1525.0" x2="1324.7" y2="1534.6" stroke="#000" stroke-width="6.8" stroke-linecap="round"/>
<line x1="1324.7" y1="2585.0" x2="1324.7" y2="2595.1" stroke="#000" stroke-width="6.8" stroke-linecap="round"/>
<line x1="1396.9" y1="1525.0" x2="1396.9" y2="1544.6" stroke="#000" stroke-width="6.8" stroke-linecap="round"/>
<line x1="1396.9" y1="2585.0" x2="1396.9" y2="2605.1" stroke="#000" stroke-width="6.8" stroke-linecap="round"/>
<line x1="1469.1" y1="1525.0" x2="1469.1" y2="1534.6" stroke="#000" stroke-width="6.8" stroke-linecap="round"/>
<line x1="1469.1" y1="2585.0" x2="1469.1" y2="2595.1" stroke="#000" stroke-width="6.8" stroke-linecap="round"/>
<line x1="1541.3" y1="1525.0" x2="1541.3" y2="1544.6" stroke="#000" stroke-width="6.8" stroke-linecap="round"/>
<line x1="1541.3" y1="2585.0" x2="1541.3" y2="2605.1" stroke="#000" stroke-width="6.8" stroke-linecap="round"/>
<text x="963.7" y="2654.0" font-size="45.5" text-anchor="middle">536</text>
<text x="1108.1" y="2654.0" font-size="45.5" text-anchor="middle">534</text>
<text x="1252.5" y="2654.0" font-size="45.5" text-anchor="middle">532</text>
<text x="1396.9" y="2654.0" font-size="45.5" text-anchor="middle">530</text>
<text x="1541.3" y="2654.0" font-size="45.5" text-anchor="middle">528</text>
<text x="1154.2" y="2741.7" font-size="54.0" textLength="199.7" lengthAdjust="spacingAndGlyphs">BE (eV)</text>
<text x="1458.2" y="1619.0" font-size="52.5" textLength="90.4" lengthAdjust="spacingAndGlyphs" class="b" style="stroke:#000;stroke-width:0.7px;stroke-linejoin:round">O1s</text>
<text x="899.2" y="1973.2" font-size="47.5" textLength="234.8" lengthAdjust="spacingAndGlyphs" class="b" style="stroke:#000;stroke-width:0.7px;stroke-linejoin:round">Gas phase</text>
</g>
<text x="1626.7" y="2317.9" font-size="40.0" textLength="60.2" lengthAdjust="spacingAndGlyphs">0.8</text>
<text x="1696.9" y="2317.9" font-size="40.0" textLength="75.2" lengthAdjust="spacingAndGlyphs">Torr</text>
<text x="1782.2" y="2317.9" font-size="40.0" textLength="130.9" lengthAdjust="spacingAndGlyphs">(CO+H</text>
<text x="1926.0" y="2317.9" font-size="40.0" textLength="47.8" lengthAdjust="spacingAndGlyphs">O)</text>
<text x="1982.8" y="2317.9" font-size="40.0" textLength="113.1" lengthAdjust="spacingAndGlyphs">446°C</text>
<text x="1911.3" y="2332.3" font-size="24.8" textLength="16.3" lengthAdjust="spacingAndGlyphs">2</text>
<text x="1621.5" y="2437.0" font-size="40.0" textLength="60.4" lengthAdjust="spacingAndGlyphs">0.8</text>
<text x="1691.9" y="2437.0" font-size="40.0" textLength="75.4" lengthAdjust="spacingAndGlyphs">Torr</text>
<text x="1777.5" y="2437.0" font-size="40.0" textLength="131.3" lengthAdjust="spacingAndGlyphs">(CO+H</text>
<text x="1921.8" y="2437.0" font-size="40.0" textLength="48.0" lengthAdjust="spacingAndGlyphs">O)</text>
<text x="1979.1" y="2437.0" font-size="40.0" textLength="113.4" lengthAdjust="spacingAndGlyphs">311°C</text>
<text x="1907.0" y="2451.4" font-size="24.8" textLength="16.3" lengthAdjust="spacingAndGlyphs">2</text>
<text x="1626.8" y="2548.8" font-size="40.0" textLength="59.1" lengthAdjust="spacingAndGlyphs">1.5</text>
<text x="1695.8" y="2548.8" font-size="40.0" textLength="76.3" lengthAdjust="spacingAndGlyphs">Torr</text>
<text x="1781.2" y="2548.8" font-size="40.0" textLength="34.8" lengthAdjust="spacingAndGlyphs">H</text>
<text x="1837.4" y="2548.8" font-size="40.0" textLength="113.8" lengthAdjust="spacingAndGlyphs">311°C</text>
<text x="1812.7" y="2563.2" font-size="24.8" textLength="16.3" lengthAdjust="spacingAndGlyphs">2</text>
<text x="17.0" y="64.5" font-size="56.0" textLength="69.0" lengthAdjust="spacingAndGlyphs" class="s">(a)</text>
<text x="31.5" y="1582.0" font-size="56.0" textLength="67.0" lengthAdjust="spacingAndGlyphs" class="s">(b)</text>
</g>
</svg></body></html>
